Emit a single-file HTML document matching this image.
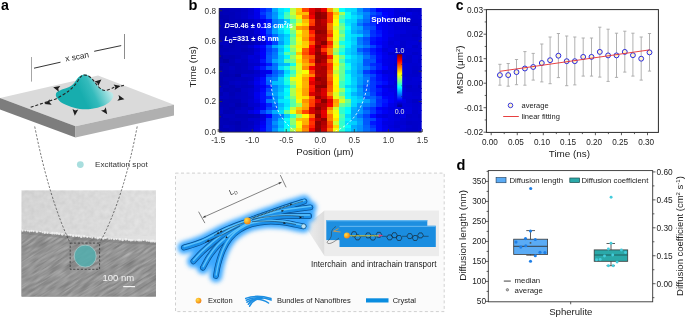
<!DOCTYPE html>
<html><head><meta charset="utf-8"><title>Figure</title>
<style>html,body{margin:0;padding:0;background:#fff;width:685px;height:317px;overflow:hidden}
svg{display:block;will-change:transform}text{font-family:"Liberation Sans",sans-serif}</style></head>
<body>
<svg width="685" height="317" viewBox="0 0 685 317"><defs>
<linearGradient id="cone" x1="86" y1="104" x2="111" y2="92" gradientUnits="userSpaceOnUse">
<stop offset="0" stop-color="#17adae"/><stop offset="0.4" stop-color="#34bbbc"/><stop offset="1" stop-color="#bce9e9"/></linearGradient>
<linearGradient id="semtop" x1="0" y1="0" x2="1" y2="0.3">
<stop offset="0" stop-color="#d2d2d2"/><stop offset="1" stop-color="#e2e2e2"/></linearGradient>
<radialGradient id="spot" cx="0.45" cy="0.45" r="0.6">
<stop offset="0" stop-color="#5fc4c4"/><stop offset="1" stop-color="#3aa9aa"/></radialGradient>
<radialGradient id="exc" cx="0.35" cy="0.35" r="0.7">
<stop offset="0" stop-color="#ffdc4a"/><stop offset="0.6" stop-color="#f8a820"/><stop offset="1" stop-color="#ee7a18"/></radialGradient>
<linearGradient id="cb" x1="0" y1="1" x2="0" y2="0">
<stop offset="0" stop-color="#00008f"/><stop offset="0.125" stop-color="#0000ff"/><stop offset="0.375" stop-color="#00ffff"/>
<stop offset="0.625" stop-color="#ffff00"/><stop offset="0.875" stop-color="#ff0000"/><stop offset="1" stop-color="#800000"/></linearGradient>
<linearGradient id="magcone" x1="0" y1="0" x2="1" y2="0">
<stop offset="0" stop-color="#f0f0f0"/><stop offset="1" stop-color="#dcdcdc"/></linearGradient>
<filter id="soft" x="-10%" y="-50%" width="120%" height="200%"><feGaussianBlur stdDeviation="0.45"/></filter>
<filter id="glow" x="-20%" y="-30%" width="140%" height="160%"><feGaussianBlur stdDeviation="2.2"/></filter>
<filter id="semtex" x="0" y="0" width="100%" height="100%" color-interpolation-filters="sRGB">
<feTurbulence type="fractalNoise" baseFrequency="0.06 0.45" numOctaves="2" seed="3" result="n"/>
<feColorMatrix in="n" type="matrix" values="0.3 0 0 0 0.43  0.3 0 0 0 0.43  0.3 0 0 0 0.43  0 0 0 0 1" result="m"/>
</filter>
<filter id="semtex2" x="0" y="0" width="100%" height="100%" color-interpolation-filters="sRGB">
<feTurbulence type="fractalNoise" baseFrequency="0.2 0.2" numOctaves="2" seed="5" result="n"/>
<feColorMatrix in="n" type="matrix" values="0.3 0 0 0 0.7  0.3 0 0 0 0.7  0.3 0 0 0 0.7  0 0 0 0 1"/>
</filter>
<clipPath id="hmclip"><rect x="219" y="8" width="202.7" height="124.1"/></clipPath>
</defs>
<text x="1.1" y="10.4" font-size="14.2" font-weight="bold" font-family="Liberation Sans, sans-serif" fill="#000">a</text>
<path d="M0,98 L98,75.5 L174,104.7 L75.5,126.2 Z" fill="#dadada"/>
<path d="M0,98 L75.5,126.2 L75.5,137.6 L0,109.6 Z" fill="#7d7d7d"/>
<path d="M75.5,126.2 L174,104.7 L174,115.5 L75.5,137.6 Z" fill="#b0b0b0"/>
<path d="M83.30,74.70 C82.03,74.90 80.65,75.50 79.60,76.20 C78.55,76.90 77.83,77.85 77.00,78.90 C76.17,79.95 75.55,81.37 74.60,82.50 C73.65,83.63 72.63,84.77 71.30,85.70 C69.97,86.63 68.40,87.35 66.60,88.10 C64.80,88.85 62.13,89.50 60.50,90.20 C58.87,90.90 57.58,91.47 56.80,92.30 C56.02,93.13 55.70,94.15 55.80,95.20 C55.90,96.25 56.35,97.28 57.40,98.60 C58.45,99.92 59.75,101.70 62.10,103.10 C64.45,104.50 68.08,105.98 71.50,107.00 C74.92,108.02 79.18,108.92 82.60,109.20 C86.02,109.48 88.60,109.25 92.00,108.70 C95.40,108.15 99.98,107.10 103.00,105.90 C106.02,104.70 108.38,103.12 110.10,101.50 C111.82,99.88 112.93,97.63 113.30,96.20 C113.67,94.77 113.22,93.72 112.30,92.90 C111.38,92.08 109.35,91.83 107.80,91.30 C106.25,90.77 104.58,90.50 103.00,89.70 C101.42,88.90 99.73,87.82 98.30,86.50 C96.87,85.18 95.68,83.35 94.40,81.80 C93.12,80.25 91.80,78.33 90.60,77.20 C89.40,76.07 88.42,75.42 87.20,75.00 C85.98,74.58 84.57,74.50 83.30,74.70Z" fill="url(#cone)"/>
<path d="M30.7,107.2 L55,99.2 C60,97 65,93.5 68.4,91.3 C72,88.5 75,85 77.8,81 C80,77.5 81.5,75 84,75 C88,75 90,77 92,78.7 C94.5,81.5 96,84 98.7,87 C101,89.5 103,90.5 105,90.5 C108,90.3 112,88.3 114.1,87.3 L124.3,85.3" fill="none" stroke="#262626" stroke-width="1.1" stroke-dasharray="3,1.9"/>
<path d="M44.50,104.00 L49.88,99.20 L49.52,102.37 L51.67,104.72 Z" fill="#1e1e1e"/>
<path d="M53.20,87.20 L60.33,86.11 L58.30,88.57 L58.82,91.71 Z" fill="#1e1e1e"/>
<path d="M74.80,115.80 L72.49,108.97 L75.26,110.54 L78.26,109.48 Z" fill="#1e1e1e"/>
<path d="M101.40,79.60 L98.21,86.06 L97.36,82.99 L94.48,81.62 Z" fill="#1e1e1e"/>
<path d="M120.60,86.10 L114.60,90.10 L115.40,87.02 L113.60,84.39 Z" fill="#1e1e1e"/>
<path d="M124.40,99.30 L117.34,100.76 L119.24,98.20 L118.55,95.09 Z" fill="#1e1e1e"/>
<path d="M107.20,114.30 L101.04,110.56 L104.17,109.97 L105.79,107.23 Z" fill="#1e1e1e"/>
<line x1="31.5" y1="57" x2="31.5" y2="81.6" stroke="#a6a6a6" stroke-width="1"/>
<line x1="124.5" y1="34" x2="124.5" y2="59" stroke="#8c8c8c" stroke-width="1"/>
<line x1="34" y1="68.2" x2="60.5" y2="62.2" stroke="#2a2a2a" stroke-width="0.95"/>
<line x1="94.2" y1="51.3" x2="121.2" y2="45.6" stroke="#2a2a2a" stroke-width="0.95"/>
<text x="0" y="0" font-size="8.3" font-family="Liberation Sans, sans-serif" fill="#1e1e1e" transform="translate(65.8,61.6) rotate(-10.5)">x scan</text>
<circle cx="80.3" cy="164.6" r="3.4" fill="#a8dede"/>
<text x="95" y="167.4" font-size="8.1" font-family="Liberation Sans, sans-serif" fill="#333">Excitation spot</text>
<rect x="21.6" y="190.4" width="134.4" height="106.1" fill="url(#semtop)"/>
<rect x="21.6" y="190.4" width="134.4" height="45" fill="#d8d8d8" filter="url(#semtex2)" opacity="0.22"/>
<clipPath id="semlow"><path d="M21.6,230.4 L40,232 L60,234 L80,236.5 L100,238 L120,239.5 L140,240.5 L156,241.3 L156,296.5 L21.6,296.5 Z"/></clipPath>
<path d="M21.6,230.4 L40,232 L60,234 L80,236.5 L100,238 L120,239.5 L140,240.5 L156,241.3 L156,296.5 L21.6,296.5 Z" fill="#8a8a8a"/>
<g clip-path="url(#semlow)"><g transform="rotate(-32 90 265)"><rect x="-10" y="180" width="200" height="170" fill="#8a8a8a" filter="url(#semtex)"/></g></g>
<path d="M21.6,230.4 L40,232 L60,234 L80,236.5 L100,238 L120,239.5 L140,240.5 L156,241.3" fill="none" stroke="#6e6e6e" stroke-width="3" opacity="0.35" transform="translate(0,2.2)" filter="url(#soft)"/>
<g fill="#f2f2f2" opacity="0.9" filter="url(#soft)"><circle cx="22.50" cy="230.64" r="1.03"/><circle cx="25.34" cy="230.54" r="0.85"/><circle cx="27.73" cy="230.78" r="0.84"/><circle cx="29.59" cy="231.33" r="1.10"/><circle cx="31.53" cy="230.82" r="1.10"/><circle cx="33.53" cy="231.17" r="0.96"/><circle cx="36.85" cy="231.67" r="1.20"/><circle cx="40.21" cy="231.55" r="0.83"/><circle cx="42.47" cy="232.44" r="0.90"/><circle cx="44.77" cy="232.61" r="1.37"/><circle cx="47.50" cy="232.71" r="1.25"/><circle cx="50.17" cy="233.26" r="0.84"/><circle cx="52.30" cy="233.15" r="1.28"/><circle cx="54.60" cy="233.35" r="1.21"/><circle cx="56.88" cy="233.36" r="1.36"/><circle cx="59.07" cy="233.73" r="1.20"/><circle cx="62.27" cy="234.33" r="1.31"/><circle cx="65.64" cy="234.63" r="0.88"/><circle cx="68.65" cy="234.94" r="0.91"/><circle cx="70.52" cy="234.93" r="1.27"/><circle cx="73.23" cy="235.67" r="1.41"/><circle cx="76.15" cy="235.80" r="1.22"/><circle cx="78.68" cy="235.78" r="1.39"/><circle cx="81.23" cy="236.84" r="1.26"/><circle cx="84.16" cy="236.22" r="1.25"/><circle cx="87.27" cy="237.00" r="1.00"/><circle cx="90.14" cy="237.15" r="0.82"/><circle cx="92.21" cy="237.66" r="0.88"/><circle cx="95.24" cy="237.72" r="0.89"/><circle cx="97.67" cy="238.05" r="1.41"/><circle cx="100.18" cy="237.52" r="1.18"/><circle cx="103.30" cy="238.30" r="1.40"/><circle cx="105.76" cy="237.94" r="1.05"/><circle cx="109.09" cy="238.82" r="0.91"/><circle cx="111.26" cy="238.71" r="0.96"/><circle cx="114.01" cy="239.35" r="0.98"/><circle cx="116.48" cy="239.03" r="1.06"/><circle cx="119.80" cy="239.32" r="1.28"/><circle cx="122.59" cy="239.88" r="1.27"/><circle cx="125.83" cy="239.30" r="1.35"/><circle cx="128.91" cy="239.89" r="1.07"/><circle cx="130.87" cy="240.29" r="1.24"/><circle cx="132.78" cy="240.29" r="0.95"/><circle cx="135.12" cy="240.56" r="0.84"/><circle cx="137.16" cy="240.33" r="0.87"/><circle cx="139.01" cy="240.20" r="1.41"/><circle cx="141.04" cy="240.54" r="0.98"/><circle cx="143.43" cy="240.21" r="0.89"/><circle cx="146.81" cy="240.71" r="1.13"/><circle cx="148.75" cy="240.93" r="0.87"/><circle cx="150.98" cy="241.20" r="1.38"/><circle cx="152.81" cy="240.97" r="1.47"/><circle cx="154.85" cy="241.52" r="1.18"/></g>
<circle cx="85.2" cy="256.1" r="11" fill="#52aeae" opacity="0.85" stroke="#a6cccc" stroke-width="0.9"/>
<rect x="70.2" y="243.1" width="29.4" height="26.2" fill="none" stroke="#333" stroke-width="0.75" stroke-dasharray="2.2,1.6"/>
<path d="M34.7,126.5 Q49.4,199.7 70.2,243.1" fill="none" stroke="#444" stroke-width="0.75" stroke-dasharray="2.2,1.6"/>
<path d="M137.2,126.5 Q123.1,200.3 99.6,243.1" fill="none" stroke="#444" stroke-width="0.75" stroke-dasharray="2.2,1.6"/>
<text x="102.4" y="280.7" font-size="9.5" font-family="Liberation Sans, sans-serif" fill="#f4f4f4">100 nm</text>
<rect x="123.2" y="286" width="11.8" height="1.2" fill="#f4f4f4"/>
<text x="188.6" y="9.9" font-size="14.6" font-weight="bold" font-family="Liberation Sans, sans-serif" fill="#000">b</text>
<g clip-path="url(#hmclip)" shape-rendering="crispEdges">
<rect x="210.90" y="8.00" width="6.7" height="4.25" fill="#0000c7"/>
<rect x="210.90" y="11.65" width="6.7" height="4.25" fill="#0000b9"/>
<rect x="210.90" y="15.30" width="6.7" height="4.25" fill="#0000b3"/>
<rect x="210.90" y="18.95" width="6.7" height="4.25" fill="#0000b1"/>
<rect x="210.90" y="22.60" width="6.7" height="4.25" fill="#0000bd"/>
<rect x="210.90" y="26.25" width="6.7" height="4.25" fill="#0000b4"/>
<rect x="210.90" y="29.90" width="6.7" height="4.25" fill="#0000bf"/>
<rect x="210.90" y="33.55" width="6.7" height="4.25" fill="#0000af"/>
<rect x="210.90" y="37.20" width="6.7" height="4.25" fill="#0000b8"/>
<rect x="210.90" y="40.85" width="6.7" height="4.25" fill="#0000bc"/>
<rect x="210.90" y="44.50" width="6.7" height="4.25" fill="#0000b6"/>
<rect x="210.90" y="48.15" width="6.7" height="4.25" fill="#0000bb"/>
<rect x="210.90" y="51.80" width="6.7" height="4.25" fill="#0000b3"/>
<rect x="210.90" y="55.45" width="6.7" height="4.25" fill="#0000b5"/>
<rect x="210.90" y="59.10" width="6.7" height="4.25" fill="#0000b4"/>
<rect x="210.90" y="62.75" width="6.7" height="4.25" fill="#0000b9"/>
<rect x="210.90" y="66.40" width="6.7" height="4.25" fill="#0000bc"/>
<rect x="210.90" y="70.05" width="6.7" height="4.25" fill="#0000b4"/>
<rect x="210.90" y="73.70" width="6.7" height="4.25" fill="#0000af"/>
<rect x="210.90" y="77.35" width="6.7" height="4.25" fill="#0000b9"/>
<rect x="210.90" y="81.00" width="6.7" height="4.25" fill="#0000bc"/>
<rect x="210.90" y="84.65" width="6.7" height="4.25" fill="#0000b3"/>
<rect x="210.90" y="88.30" width="6.7" height="4.25" fill="#0000bd"/>
<rect x="210.90" y="91.95" width="6.7" height="4.25" fill="#0000b4"/>
<rect x="210.90" y="95.60" width="6.7" height="4.25" fill="#0000b0"/>
<rect x="210.90" y="99.25" width="6.7" height="4.25" fill="#0000b6"/>
<rect x="210.90" y="102.90" width="6.7" height="4.25" fill="#0000be"/>
<rect x="210.90" y="106.55" width="6.7" height="4.25" fill="#0000b8"/>
<rect x="210.90" y="110.20" width="6.7" height="4.25" fill="#0000b7"/>
<rect x="210.90" y="113.85" width="6.7" height="4.25" fill="#0000b8"/>
<rect x="210.90" y="117.50" width="6.7" height="4.25" fill="#0000b8"/>
<rect x="210.90" y="121.15" width="6.7" height="4.25" fill="#0000b4"/>
<rect x="210.90" y="124.80" width="6.7" height="4.25" fill="#0000ad"/>
<rect x="210.90" y="128.45" width="6.7" height="4.25" fill="#0000b9"/>
<rect x="217.00" y="8.00" width="6.7" height="4.25" fill="#0000b2"/>
<rect x="217.00" y="11.65" width="6.7" height="4.25" fill="#0000b5"/>
<rect x="217.00" y="15.30" width="6.7" height="4.25" fill="#0000af"/>
<rect x="217.00" y="18.95" width="6.7" height="4.25" fill="#0000b6"/>
<rect x="217.00" y="22.60" width="6.7" height="4.25" fill="#0000b8"/>
<rect x="217.00" y="26.25" width="6.7" height="4.25" fill="#0000b4"/>
<rect x="217.00" y="29.90" width="6.7" height="4.25" fill="#0000b3"/>
<rect x="217.00" y="33.55" width="6.7" height="4.25" fill="#0000b5"/>
<rect x="217.00" y="37.20" width="6.7" height="4.25" fill="#0000b5"/>
<rect x="217.00" y="40.85" width="6.7" height="4.25" fill="#0000c1"/>
<rect x="217.00" y="44.50" width="6.7" height="4.25" fill="#0000af"/>
<rect x="217.00" y="48.15" width="6.7" height="4.25" fill="#0000b7"/>
<rect x="217.00" y="51.80" width="6.7" height="4.25" fill="#0000b8"/>
<rect x="217.00" y="55.45" width="6.7" height="4.25" fill="#0000aa"/>
<rect x="217.00" y="59.10" width="6.7" height="4.25" fill="#0000af"/>
<rect x="217.00" y="62.75" width="6.7" height="4.25" fill="#0000ba"/>
<rect x="217.00" y="66.40" width="6.7" height="4.25" fill="#0000b0"/>
<rect x="217.00" y="70.05" width="6.7" height="4.25" fill="#0000b7"/>
<rect x="217.00" y="73.70" width="6.7" height="4.25" fill="#0000b5"/>
<rect x="217.00" y="77.35" width="6.7" height="4.25" fill="#0000b1"/>
<rect x="217.00" y="81.00" width="6.7" height="4.25" fill="#0000b0"/>
<rect x="217.00" y="84.65" width="6.7" height="4.25" fill="#0000b6"/>
<rect x="217.00" y="88.30" width="6.7" height="4.25" fill="#0000c0"/>
<rect x="217.00" y="91.95" width="6.7" height="4.25" fill="#0000b4"/>
<rect x="217.00" y="95.60" width="6.7" height="4.25" fill="#0000c2"/>
<rect x="217.00" y="99.25" width="6.7" height="4.25" fill="#0000ad"/>
<rect x="217.00" y="102.90" width="6.7" height="4.25" fill="#0000b7"/>
<rect x="217.00" y="106.55" width="6.7" height="4.25" fill="#0000bf"/>
<rect x="217.00" y="110.20" width="6.7" height="4.25" fill="#0000c2"/>
<rect x="217.00" y="113.85" width="6.7" height="4.25" fill="#0000b3"/>
<rect x="217.00" y="117.50" width="6.7" height="4.25" fill="#0000b9"/>
<rect x="217.00" y="121.15" width="6.7" height="4.25" fill="#0000b9"/>
<rect x="217.00" y="124.80" width="6.7" height="4.25" fill="#0000b5"/>
<rect x="217.00" y="128.45" width="6.7" height="4.25" fill="#0000b8"/>
<rect x="223.10" y="8.00" width="6.7" height="4.25" fill="#0000b7"/>
<rect x="223.10" y="11.65" width="6.7" height="4.25" fill="#0000b9"/>
<rect x="223.10" y="15.30" width="6.7" height="4.25" fill="#0000b2"/>
<rect x="223.10" y="18.95" width="6.7" height="4.25" fill="#0000ae"/>
<rect x="223.10" y="22.60" width="6.7" height="4.25" fill="#0000ba"/>
<rect x="223.10" y="26.25" width="6.7" height="4.25" fill="#0000b5"/>
<rect x="223.10" y="29.90" width="6.7" height="4.25" fill="#0000b5"/>
<rect x="223.10" y="33.55" width="6.7" height="4.25" fill="#0000ae"/>
<rect x="223.10" y="37.20" width="6.7" height="4.25" fill="#0000bf"/>
<rect x="223.10" y="40.85" width="6.7" height="4.25" fill="#0000c1"/>
<rect x="223.10" y="44.50" width="6.7" height="4.25" fill="#0000bb"/>
<rect x="223.10" y="48.15" width="6.7" height="4.25" fill="#0000b6"/>
<rect x="223.10" y="51.80" width="6.7" height="4.25" fill="#0000bd"/>
<rect x="223.10" y="55.45" width="6.7" height="4.25" fill="#0000b5"/>
<rect x="223.10" y="59.10" width="6.7" height="4.25" fill="#0000a5"/>
<rect x="223.10" y="62.75" width="6.7" height="4.25" fill="#0000b9"/>
<rect x="223.10" y="66.40" width="6.7" height="4.25" fill="#0000b9"/>
<rect x="223.10" y="70.05" width="6.7" height="4.25" fill="#0000b4"/>
<rect x="223.10" y="73.70" width="6.7" height="4.25" fill="#0000b0"/>
<rect x="223.10" y="77.35" width="6.7" height="4.25" fill="#0000ba"/>
<rect x="223.10" y="81.00" width="6.7" height="4.25" fill="#0000b5"/>
<rect x="223.10" y="84.65" width="6.7" height="4.25" fill="#0000bb"/>
<rect x="223.10" y="88.30" width="6.7" height="4.25" fill="#0000b3"/>
<rect x="223.10" y="91.95" width="6.7" height="4.25" fill="#0000c0"/>
<rect x="223.10" y="95.60" width="6.7" height="4.25" fill="#0000bf"/>
<rect x="223.10" y="99.25" width="6.7" height="4.25" fill="#0000b8"/>
<rect x="223.10" y="102.90" width="6.7" height="4.25" fill="#0000b6"/>
<rect x="223.10" y="106.55" width="6.7" height="4.25" fill="#0000b8"/>
<rect x="223.10" y="110.20" width="6.7" height="4.25" fill="#0000b3"/>
<rect x="223.10" y="113.85" width="6.7" height="4.25" fill="#0000bf"/>
<rect x="223.10" y="117.50" width="6.7" height="4.25" fill="#0000b5"/>
<rect x="223.10" y="121.15" width="6.7" height="4.25" fill="#0000b7"/>
<rect x="223.10" y="124.80" width="6.7" height="4.25" fill="#0000c2"/>
<rect x="223.10" y="128.45" width="6.7" height="4.25" fill="#0000b6"/>
<rect x="229.20" y="8.00" width="6.7" height="4.25" fill="#0000bb"/>
<rect x="229.20" y="11.65" width="6.7" height="4.25" fill="#0000b8"/>
<rect x="229.20" y="15.30" width="6.7" height="4.25" fill="#0000b9"/>
<rect x="229.20" y="18.95" width="6.7" height="4.25" fill="#0000b9"/>
<rect x="229.20" y="22.60" width="6.7" height="4.25" fill="#0000b8"/>
<rect x="229.20" y="26.25" width="6.7" height="4.25" fill="#0000b3"/>
<rect x="229.20" y="29.90" width="6.7" height="4.25" fill="#0000bc"/>
<rect x="229.20" y="33.55" width="6.7" height="4.25" fill="#0000bc"/>
<rect x="229.20" y="37.20" width="6.7" height="4.25" fill="#0000c1"/>
<rect x="229.20" y="40.85" width="6.7" height="4.25" fill="#0000b1"/>
<rect x="229.20" y="44.50" width="6.7" height="4.25" fill="#0000b7"/>
<rect x="229.20" y="48.15" width="6.7" height="4.25" fill="#0000bb"/>
<rect x="229.20" y="51.80" width="6.7" height="4.25" fill="#0000be"/>
<rect x="229.20" y="55.45" width="6.7" height="4.25" fill="#0000b3"/>
<rect x="229.20" y="59.10" width="6.7" height="4.25" fill="#0000b7"/>
<rect x="229.20" y="62.75" width="6.7" height="4.25" fill="#0000b5"/>
<rect x="229.20" y="66.40" width="6.7" height="4.25" fill="#0000c1"/>
<rect x="229.20" y="70.05" width="6.7" height="4.25" fill="#0000ba"/>
<rect x="229.20" y="73.70" width="6.7" height="4.25" fill="#0000b5"/>
<rect x="229.20" y="77.35" width="6.7" height="4.25" fill="#0000b9"/>
<rect x="229.20" y="81.00" width="6.7" height="4.25" fill="#0000c1"/>
<rect x="229.20" y="84.65" width="6.7" height="4.25" fill="#0000b4"/>
<rect x="229.20" y="88.30" width="6.7" height="4.25" fill="#0000b8"/>
<rect x="229.20" y="91.95" width="6.7" height="4.25" fill="#0000b5"/>
<rect x="229.20" y="95.60" width="6.7" height="4.25" fill="#0000ba"/>
<rect x="229.20" y="99.25" width="6.7" height="4.25" fill="#0000b6"/>
<rect x="229.20" y="102.90" width="6.7" height="4.25" fill="#0000bb"/>
<rect x="229.20" y="106.55" width="6.7" height="4.25" fill="#0000b2"/>
<rect x="229.20" y="110.20" width="6.7" height="4.25" fill="#0000b6"/>
<rect x="229.20" y="113.85" width="6.7" height="4.25" fill="#0000be"/>
<rect x="229.20" y="117.50" width="6.7" height="4.25" fill="#0000bb"/>
<rect x="229.20" y="121.15" width="6.7" height="4.25" fill="#0000b5"/>
<rect x="229.20" y="124.80" width="6.7" height="4.25" fill="#0000bc"/>
<rect x="229.20" y="128.45" width="6.7" height="4.25" fill="#0000bd"/>
<rect x="235.30" y="8.00" width="6.7" height="4.25" fill="#0000bc"/>
<rect x="235.30" y="11.65" width="6.7" height="4.25" fill="#0000bf"/>
<rect x="235.30" y="15.30" width="6.7" height="4.25" fill="#0000be"/>
<rect x="235.30" y="18.95" width="6.7" height="4.25" fill="#0000b9"/>
<rect x="235.30" y="22.60" width="6.7" height="4.25" fill="#0000b9"/>
<rect x="235.30" y="26.25" width="6.7" height="4.25" fill="#0000bf"/>
<rect x="235.30" y="29.90" width="6.7" height="4.25" fill="#0000b6"/>
<rect x="235.30" y="33.55" width="6.7" height="4.25" fill="#0000c2"/>
<rect x="235.30" y="37.20" width="6.7" height="4.25" fill="#0000b6"/>
<rect x="235.30" y="40.85" width="6.7" height="4.25" fill="#0000be"/>
<rect x="235.30" y="44.50" width="6.7" height="4.25" fill="#0000bd"/>
<rect x="235.30" y="48.15" width="6.7" height="4.25" fill="#0000bd"/>
<rect x="235.30" y="51.80" width="6.7" height="4.25" fill="#0000be"/>
<rect x="235.30" y="55.45" width="6.7" height="4.25" fill="#0000ba"/>
<rect x="235.30" y="59.10" width="6.7" height="4.25" fill="#0000c4"/>
<rect x="235.30" y="62.75" width="6.7" height="4.25" fill="#0000b8"/>
<rect x="235.30" y="66.40" width="6.7" height="4.25" fill="#0000b8"/>
<rect x="235.30" y="70.05" width="6.7" height="4.25" fill="#0000b6"/>
<rect x="235.30" y="73.70" width="6.7" height="4.25" fill="#0000aa"/>
<rect x="235.30" y="77.35" width="6.7" height="4.25" fill="#0000bd"/>
<rect x="235.30" y="81.00" width="6.7" height="4.25" fill="#0000c6"/>
<rect x="235.30" y="84.65" width="6.7" height="4.25" fill="#0000c0"/>
<rect x="235.30" y="88.30" width="6.7" height="4.25" fill="#0000b3"/>
<rect x="235.30" y="91.95" width="6.7" height="4.25" fill="#0000be"/>
<rect x="235.30" y="95.60" width="6.7" height="4.25" fill="#0000bf"/>
<rect x="235.30" y="99.25" width="6.7" height="4.25" fill="#0000b6"/>
<rect x="235.30" y="102.90" width="6.7" height="4.25" fill="#0000af"/>
<rect x="235.30" y="106.55" width="6.7" height="4.25" fill="#0000b8"/>
<rect x="235.30" y="110.20" width="6.7" height="4.25" fill="#0000c5"/>
<rect x="235.30" y="113.85" width="6.7" height="4.25" fill="#0000b6"/>
<rect x="235.30" y="117.50" width="6.7" height="4.25" fill="#0000bd"/>
<rect x="235.30" y="121.15" width="6.7" height="4.25" fill="#0000b0"/>
<rect x="235.30" y="124.80" width="6.7" height="4.25" fill="#0000b5"/>
<rect x="235.30" y="128.45" width="6.7" height="4.25" fill="#0000b5"/>
<rect x="241.40" y="8.00" width="6.7" height="4.25" fill="#0000c3"/>
<rect x="241.40" y="11.65" width="6.7" height="4.25" fill="#0000c6"/>
<rect x="241.40" y="15.30" width="6.7" height="4.25" fill="#0000c7"/>
<rect x="241.40" y="18.95" width="6.7" height="4.25" fill="#0000bc"/>
<rect x="241.40" y="22.60" width="6.7" height="4.25" fill="#0000ba"/>
<rect x="241.40" y="26.25" width="6.7" height="4.25" fill="#0000bb"/>
<rect x="241.40" y="29.90" width="6.7" height="4.25" fill="#0000c1"/>
<rect x="241.40" y="33.55" width="6.7" height="4.25" fill="#0000be"/>
<rect x="241.40" y="37.20" width="6.7" height="4.25" fill="#0000c2"/>
<rect x="241.40" y="40.85" width="6.7" height="4.25" fill="#0000ae"/>
<rect x="241.40" y="44.50" width="6.7" height="4.25" fill="#0000be"/>
<rect x="241.40" y="48.15" width="6.7" height="4.25" fill="#0000b7"/>
<rect x="241.40" y="51.80" width="6.7" height="4.25" fill="#0000bf"/>
<rect x="241.40" y="55.45" width="6.7" height="4.25" fill="#0000c3"/>
<rect x="241.40" y="59.10" width="6.7" height="4.25" fill="#0000bd"/>
<rect x="241.40" y="62.75" width="6.7" height="4.25" fill="#0000bb"/>
<rect x="241.40" y="66.40" width="6.7" height="4.25" fill="#0000be"/>
<rect x="241.40" y="70.05" width="6.7" height="4.25" fill="#0000ba"/>
<rect x="241.40" y="73.70" width="6.7" height="4.25" fill="#0000cb"/>
<rect x="241.40" y="77.35" width="6.7" height="4.25" fill="#0000bd"/>
<rect x="241.40" y="81.00" width="6.7" height="4.25" fill="#0000c2"/>
<rect x="241.40" y="84.65" width="6.7" height="4.25" fill="#0000bc"/>
<rect x="241.40" y="88.30" width="6.7" height="4.25" fill="#0000c4"/>
<rect x="241.40" y="91.95" width="6.7" height="4.25" fill="#0000c1"/>
<rect x="241.40" y="95.60" width="6.7" height="4.25" fill="#0000c3"/>
<rect x="241.40" y="99.25" width="6.7" height="4.25" fill="#0000c3"/>
<rect x="241.40" y="102.90" width="6.7" height="4.25" fill="#0000b8"/>
<rect x="241.40" y="106.55" width="6.7" height="4.25" fill="#0000c2"/>
<rect x="241.40" y="110.20" width="6.7" height="4.25" fill="#0000c5"/>
<rect x="241.40" y="113.85" width="6.7" height="4.25" fill="#0000b8"/>
<rect x="241.40" y="117.50" width="6.7" height="4.25" fill="#0000bc"/>
<rect x="241.40" y="121.15" width="6.7" height="4.25" fill="#0000bd"/>
<rect x="241.40" y="124.80" width="6.7" height="4.25" fill="#0000bd"/>
<rect x="241.40" y="128.45" width="6.7" height="4.25" fill="#0000c1"/>
<rect x="247.50" y="8.00" width="6.7" height="4.25" fill="#0000d1"/>
<rect x="247.50" y="11.65" width="6.7" height="4.25" fill="#0000d3"/>
<rect x="247.50" y="15.30" width="6.7" height="4.25" fill="#0000d9"/>
<rect x="247.50" y="18.95" width="6.7" height="4.25" fill="#0000c2"/>
<rect x="247.50" y="22.60" width="6.7" height="4.25" fill="#0000c1"/>
<rect x="247.50" y="26.25" width="6.7" height="4.25" fill="#0000d4"/>
<rect x="247.50" y="29.90" width="6.7" height="4.25" fill="#0000c0"/>
<rect x="247.50" y="33.55" width="6.7" height="4.25" fill="#0000c2"/>
<rect x="247.50" y="37.20" width="6.7" height="4.25" fill="#0000be"/>
<rect x="247.50" y="40.85" width="6.7" height="4.25" fill="#0000b6"/>
<rect x="247.50" y="44.50" width="6.7" height="4.25" fill="#0000d1"/>
<rect x="247.50" y="48.15" width="6.7" height="4.25" fill="#0000bf"/>
<rect x="247.50" y="51.80" width="6.7" height="4.25" fill="#0000c1"/>
<rect x="247.50" y="55.45" width="6.7" height="4.25" fill="#0000d8"/>
<rect x="247.50" y="59.10" width="6.7" height="4.25" fill="#0000d2"/>
<rect x="247.50" y="62.75" width="6.7" height="4.25" fill="#0000c9"/>
<rect x="247.50" y="66.40" width="6.7" height="4.25" fill="#0000ce"/>
<rect x="247.50" y="70.05" width="6.7" height="4.25" fill="#0000bb"/>
<rect x="247.50" y="73.70" width="6.7" height="4.25" fill="#0000c9"/>
<rect x="247.50" y="77.35" width="6.7" height="4.25" fill="#0000c2"/>
<rect x="247.50" y="81.00" width="6.7" height="4.25" fill="#0000ce"/>
<rect x="247.50" y="84.65" width="6.7" height="4.25" fill="#0000bf"/>
<rect x="247.50" y="88.30" width="6.7" height="4.25" fill="#0000cb"/>
<rect x="247.50" y="91.95" width="6.7" height="4.25" fill="#0000cc"/>
<rect x="247.50" y="95.60" width="6.7" height="4.25" fill="#0000c8"/>
<rect x="247.50" y="99.25" width="6.7" height="4.25" fill="#0000ce"/>
<rect x="247.50" y="102.90" width="6.7" height="4.25" fill="#0000cb"/>
<rect x="247.50" y="106.55" width="6.7" height="4.25" fill="#0000be"/>
<rect x="247.50" y="110.20" width="6.7" height="4.25" fill="#0000df"/>
<rect x="247.50" y="113.85" width="6.7" height="4.25" fill="#0000b6"/>
<rect x="247.50" y="117.50" width="6.7" height="4.25" fill="#0000cc"/>
<rect x="247.50" y="121.15" width="6.7" height="4.25" fill="#0000c0"/>
<rect x="247.50" y="124.80" width="6.7" height="4.25" fill="#0000c5"/>
<rect x="247.50" y="128.45" width="6.7" height="4.25" fill="#0000c5"/>
<rect x="253.60" y="8.00" width="6.7" height="4.25" fill="#0000ee"/>
<rect x="253.60" y="11.65" width="6.7" height="4.25" fill="#0000ea"/>
<rect x="253.60" y="15.30" width="6.7" height="4.25" fill="#0000ea"/>
<rect x="253.60" y="18.95" width="6.7" height="4.25" fill="#0000d2"/>
<rect x="253.60" y="22.60" width="6.7" height="4.25" fill="#0000d2"/>
<rect x="253.60" y="26.25" width="6.7" height="4.25" fill="#0000d9"/>
<rect x="253.60" y="29.90" width="6.7" height="4.25" fill="#0000d7"/>
<rect x="253.60" y="33.55" width="6.7" height="4.25" fill="#0000cd"/>
<rect x="253.60" y="37.20" width="6.7" height="4.25" fill="#0000cf"/>
<rect x="253.60" y="40.85" width="6.7" height="4.25" fill="#0000c2"/>
<rect x="253.60" y="44.50" width="6.7" height="4.25" fill="#0000ec"/>
<rect x="253.60" y="48.15" width="6.7" height="4.25" fill="#0000d4"/>
<rect x="253.60" y="51.80" width="6.7" height="4.25" fill="#0000dd"/>
<rect x="253.60" y="55.45" width="6.7" height="4.25" fill="#0000d4"/>
<rect x="253.60" y="59.10" width="6.7" height="4.25" fill="#0000d8"/>
<rect x="253.60" y="62.75" width="6.7" height="4.25" fill="#0000cc"/>
<rect x="253.60" y="66.40" width="6.7" height="4.25" fill="#0000ee"/>
<rect x="253.60" y="70.05" width="6.7" height="4.25" fill="#0000c9"/>
<rect x="253.60" y="73.70" width="6.7" height="4.25" fill="#0000d1"/>
<rect x="253.60" y="77.35" width="6.7" height="4.25" fill="#0000e4"/>
<rect x="253.60" y="81.00" width="6.7" height="4.25" fill="#0000ee"/>
<rect x="253.60" y="84.65" width="6.7" height="4.25" fill="#0000e1"/>
<rect x="253.60" y="88.30" width="6.7" height="4.25" fill="#0000e0"/>
<rect x="253.60" y="91.95" width="6.7" height="4.25" fill="#0000ee"/>
<rect x="253.60" y="95.60" width="6.7" height="4.25" fill="#0000ec"/>
<rect x="253.60" y="99.25" width="6.7" height="4.25" fill="#0000e2"/>
<rect x="253.60" y="102.90" width="6.7" height="4.25" fill="#0000d0"/>
<rect x="253.60" y="106.55" width="6.7" height="4.25" fill="#0000de"/>
<rect x="253.60" y="110.20" width="6.7" height="4.25" fill="#0000f4"/>
<rect x="253.60" y="113.85" width="6.7" height="4.25" fill="#0000bd"/>
<rect x="253.60" y="117.50" width="6.7" height="4.25" fill="#0000cf"/>
<rect x="253.60" y="121.15" width="6.7" height="4.25" fill="#0000d0"/>
<rect x="253.60" y="124.80" width="6.7" height="4.25" fill="#0000da"/>
<rect x="253.60" y="128.45" width="6.7" height="4.25" fill="#0000de"/>
<rect x="259.70" y="8.00" width="6.7" height="4.25" fill="#0023ff"/>
<rect x="259.70" y="11.65" width="6.7" height="4.25" fill="#0037ff"/>
<rect x="259.70" y="15.30" width="6.7" height="4.25" fill="#001dff"/>
<rect x="259.70" y="18.95" width="6.7" height="4.25" fill="#0000ef"/>
<rect x="259.70" y="22.60" width="6.7" height="4.25" fill="#0000e8"/>
<rect x="259.70" y="26.25" width="6.7" height="4.25" fill="#0007ff"/>
<rect x="259.70" y="29.90" width="6.7" height="4.25" fill="#0000ff"/>
<rect x="259.70" y="33.55" width="6.7" height="4.25" fill="#0000f7"/>
<rect x="259.70" y="37.20" width="6.7" height="4.25" fill="#0000e9"/>
<rect x="259.70" y="40.85" width="6.7" height="4.25" fill="#0000d5"/>
<rect x="259.70" y="44.50" width="6.7" height="4.25" fill="#0007ff"/>
<rect x="259.70" y="48.15" width="6.7" height="4.25" fill="#0000f6"/>
<rect x="259.70" y="51.80" width="6.7" height="4.25" fill="#0000fc"/>
<rect x="259.70" y="55.45" width="6.7" height="4.25" fill="#0000fb"/>
<rect x="259.70" y="59.10" width="6.7" height="4.25" fill="#0014ff"/>
<rect x="259.70" y="62.75" width="6.7" height="4.25" fill="#0000ee"/>
<rect x="259.70" y="66.40" width="6.7" height="4.25" fill="#0018ff"/>
<rect x="259.70" y="70.05" width="6.7" height="4.25" fill="#0000e7"/>
<rect x="259.70" y="73.70" width="6.7" height="4.25" fill="#0000ec"/>
<rect x="259.70" y="77.35" width="6.7" height="4.25" fill="#000bff"/>
<rect x="259.70" y="81.00" width="6.7" height="4.25" fill="#000fff"/>
<rect x="259.70" y="84.65" width="6.7" height="4.25" fill="#0000f6"/>
<rect x="259.70" y="88.30" width="6.7" height="4.25" fill="#0007ff"/>
<rect x="259.70" y="91.95" width="6.7" height="4.25" fill="#0012ff"/>
<rect x="259.70" y="95.60" width="6.7" height="4.25" fill="#0012ff"/>
<rect x="259.70" y="99.25" width="6.7" height="4.25" fill="#000fff"/>
<rect x="259.70" y="102.90" width="6.7" height="4.25" fill="#0000f3"/>
<rect x="259.70" y="106.55" width="6.7" height="4.25" fill="#0000f6"/>
<rect x="259.70" y="110.20" width="6.7" height="4.25" fill="#003eff"/>
<rect x="259.70" y="113.85" width="6.7" height="4.25" fill="#0000d8"/>
<rect x="259.70" y="117.50" width="6.7" height="4.25" fill="#0000e2"/>
<rect x="259.70" y="121.15" width="6.7" height="4.25" fill="#0000f1"/>
<rect x="259.70" y="124.80" width="6.7" height="4.25" fill="#0000fc"/>
<rect x="259.70" y="128.45" width="6.7" height="4.25" fill="#0007ff"/>
<rect x="265.80" y="8.00" width="6.7" height="4.25" fill="#0047ff"/>
<rect x="265.80" y="11.65" width="6.7" height="4.25" fill="#0060ff"/>
<rect x="265.80" y="15.30" width="6.7" height="4.25" fill="#0062ff"/>
<rect x="265.80" y="18.95" width="6.7" height="4.25" fill="#0016ff"/>
<rect x="265.80" y="22.60" width="6.7" height="4.25" fill="#002aff"/>
<rect x="265.80" y="26.25" width="6.7" height="4.25" fill="#0049ff"/>
<rect x="265.80" y="29.90" width="6.7" height="4.25" fill="#0051ff"/>
<rect x="265.80" y="33.55" width="6.7" height="4.25" fill="#002fff"/>
<rect x="265.80" y="37.20" width="6.7" height="4.25" fill="#001cff"/>
<rect x="265.80" y="40.85" width="6.7" height="4.25" fill="#0008ff"/>
<rect x="265.80" y="44.50" width="6.7" height="4.25" fill="#0053ff"/>
<rect x="265.80" y="48.15" width="6.7" height="4.25" fill="#003eff"/>
<rect x="265.80" y="51.80" width="6.7" height="4.25" fill="#004cff"/>
<rect x="265.80" y="55.45" width="6.7" height="4.25" fill="#0057ff"/>
<rect x="265.80" y="59.10" width="6.7" height="4.25" fill="#0057ff"/>
<rect x="265.80" y="62.75" width="6.7" height="4.25" fill="#0019ff"/>
<rect x="265.80" y="66.40" width="6.7" height="4.25" fill="#005bff"/>
<rect x="265.80" y="70.05" width="6.7" height="4.25" fill="#0000eb"/>
<rect x="265.80" y="73.70" width="6.7" height="4.25" fill="#0041ff"/>
<rect x="265.80" y="77.35" width="6.7" height="4.25" fill="#006eff"/>
<rect x="265.80" y="81.00" width="6.7" height="4.25" fill="#0062ff"/>
<rect x="265.80" y="84.65" width="6.7" height="4.25" fill="#001eff"/>
<rect x="265.80" y="88.30" width="6.7" height="4.25" fill="#004cff"/>
<rect x="265.80" y="91.95" width="6.7" height="4.25" fill="#006bff"/>
<rect x="265.80" y="95.60" width="6.7" height="4.25" fill="#002eff"/>
<rect x="265.80" y="99.25" width="6.7" height="4.25" fill="#0077ff"/>
<rect x="265.80" y="102.90" width="6.7" height="4.25" fill="#0024ff"/>
<rect x="265.80" y="106.55" width="6.7" height="4.25" fill="#0041ff"/>
<rect x="265.80" y="110.20" width="6.7" height="4.25" fill="#0072ff"/>
<rect x="265.80" y="113.85" width="6.7" height="4.25" fill="#0000fe"/>
<rect x="265.80" y="117.50" width="6.7" height="4.25" fill="#003dff"/>
<rect x="265.80" y="121.15" width="6.7" height="4.25" fill="#0040ff"/>
<rect x="265.80" y="124.80" width="6.7" height="4.25" fill="#0045ff"/>
<rect x="265.80" y="128.45" width="6.7" height="4.25" fill="#0045ff"/>
<rect x="271.90" y="8.00" width="6.7" height="4.25" fill="#00a9ff"/>
<rect x="271.90" y="11.65" width="6.7" height="4.25" fill="#0092ff"/>
<rect x="271.90" y="15.30" width="6.7" height="4.25" fill="#0098ff"/>
<rect x="271.90" y="18.95" width="6.7" height="4.25" fill="#007bff"/>
<rect x="271.90" y="22.60" width="6.7" height="4.25" fill="#006cff"/>
<rect x="271.90" y="26.25" width="6.7" height="4.25" fill="#009aff"/>
<rect x="271.90" y="29.90" width="6.7" height="4.25" fill="#00a7ff"/>
<rect x="271.90" y="33.55" width="6.7" height="4.25" fill="#0068ff"/>
<rect x="271.90" y="37.20" width="6.7" height="4.25" fill="#0079ff"/>
<rect x="271.90" y="40.85" width="6.7" height="4.25" fill="#0045ff"/>
<rect x="271.90" y="44.50" width="6.7" height="4.25" fill="#00acff"/>
<rect x="271.90" y="48.15" width="6.7" height="4.25" fill="#0066ff"/>
<rect x="271.90" y="51.80" width="6.7" height="4.25" fill="#0076ff"/>
<rect x="271.90" y="55.45" width="6.7" height="4.25" fill="#007cff"/>
<rect x="271.90" y="59.10" width="6.7" height="4.25" fill="#00a6ff"/>
<rect x="271.90" y="62.75" width="6.7" height="4.25" fill="#006bff"/>
<rect x="271.90" y="66.40" width="6.7" height="4.25" fill="#0079ff"/>
<rect x="271.90" y="70.05" width="6.7" height="4.25" fill="#0055ff"/>
<rect x="271.90" y="73.70" width="6.7" height="4.25" fill="#0065ff"/>
<rect x="271.90" y="77.35" width="6.7" height="4.25" fill="#0083ff"/>
<rect x="271.90" y="81.00" width="6.7" height="4.25" fill="#00c0ff"/>
<rect x="271.90" y="84.65" width="6.7" height="4.25" fill="#0086ff"/>
<rect x="271.90" y="88.30" width="6.7" height="4.25" fill="#0093ff"/>
<rect x="271.90" y="91.95" width="6.7" height="4.25" fill="#00a0ff"/>
<rect x="271.90" y="95.60" width="6.7" height="4.25" fill="#0088ff"/>
<rect x="271.90" y="99.25" width="6.7" height="4.25" fill="#0093ff"/>
<rect x="271.90" y="102.90" width="6.7" height="4.25" fill="#006eff"/>
<rect x="271.90" y="106.55" width="6.7" height="4.25" fill="#0059ff"/>
<rect x="271.90" y="110.20" width="6.7" height="4.25" fill="#00b0ff"/>
<rect x="271.90" y="113.85" width="6.7" height="4.25" fill="#006aff"/>
<rect x="271.90" y="117.50" width="6.7" height="4.25" fill="#0070ff"/>
<rect x="271.90" y="121.15" width="6.7" height="4.25" fill="#008fff"/>
<rect x="271.90" y="124.80" width="6.7" height="4.25" fill="#0075ff"/>
<rect x="271.90" y="128.45" width="6.7" height="4.25" fill="#008eff"/>
<rect x="278.00" y="8.00" width="6.7" height="4.25" fill="#00e2ff"/>
<rect x="278.00" y="11.65" width="6.7" height="4.25" fill="#00d9ff"/>
<rect x="278.00" y="15.30" width="6.7" height="4.25" fill="#00e3ff"/>
<rect x="278.00" y="18.95" width="6.7" height="4.25" fill="#009aff"/>
<rect x="278.00" y="22.60" width="6.7" height="4.25" fill="#00a8ff"/>
<rect x="278.00" y="26.25" width="6.7" height="4.25" fill="#00e6ff"/>
<rect x="278.00" y="29.90" width="6.7" height="4.25" fill="#00d1ff"/>
<rect x="278.00" y="33.55" width="6.7" height="4.25" fill="#00aaff"/>
<rect x="278.00" y="37.20" width="6.7" height="4.25" fill="#00b2ff"/>
<rect x="278.00" y="40.85" width="6.7" height="4.25" fill="#009eff"/>
<rect x="278.00" y="44.50" width="6.7" height="4.25" fill="#00d2ff"/>
<rect x="278.00" y="48.15" width="6.7" height="4.25" fill="#00bcff"/>
<rect x="278.00" y="51.80" width="6.7" height="4.25" fill="#00d3ff"/>
<rect x="278.00" y="55.45" width="6.7" height="4.25" fill="#00c2ff"/>
<rect x="278.00" y="59.10" width="6.7" height="4.25" fill="#00c7ff"/>
<rect x="278.00" y="62.75" width="6.7" height="4.25" fill="#00b1ff"/>
<rect x="278.00" y="66.40" width="6.7" height="4.25" fill="#00deff"/>
<rect x="278.00" y="70.05" width="6.7" height="4.25" fill="#007bff"/>
<rect x="278.00" y="73.70" width="6.7" height="4.25" fill="#0099ff"/>
<rect x="278.00" y="77.35" width="6.7" height="4.25" fill="#00ceff"/>
<rect x="278.00" y="81.00" width="6.7" height="4.25" fill="#00cbff"/>
<rect x="278.00" y="84.65" width="6.7" height="4.25" fill="#00b3ff"/>
<rect x="278.00" y="88.30" width="6.7" height="4.25" fill="#00bcff"/>
<rect x="278.00" y="91.95" width="6.7" height="4.25" fill="#00d3ff"/>
<rect x="278.00" y="95.60" width="6.7" height="4.25" fill="#00c0ff"/>
<rect x="278.00" y="99.25" width="6.7" height="4.25" fill="#00e4ff"/>
<rect x="278.00" y="102.90" width="6.7" height="4.25" fill="#00b5ff"/>
<rect x="278.00" y="106.55" width="6.7" height="4.25" fill="#00c9ff"/>
<rect x="278.00" y="110.20" width="6.7" height="4.25" fill="#00deff"/>
<rect x="278.00" y="113.85" width="6.7" height="4.25" fill="#007cff"/>
<rect x="278.00" y="117.50" width="6.7" height="4.25" fill="#00b2ff"/>
<rect x="278.00" y="121.15" width="6.7" height="4.25" fill="#00c2ff"/>
<rect x="278.00" y="124.80" width="6.7" height="4.25" fill="#00b6ff"/>
<rect x="278.00" y="128.45" width="6.7" height="4.25" fill="#00d1ff"/>
<rect x="284.10" y="8.00" width="6.7" height="4.25" fill="#00f7ff"/>
<rect x="284.10" y="11.65" width="6.7" height="4.25" fill="#3dffc1"/>
<rect x="284.10" y="15.30" width="6.7" height="4.25" fill="#4dffb1"/>
<rect x="284.10" y="18.95" width="6.7" height="4.25" fill="#00ceff"/>
<rect x="284.10" y="22.60" width="6.7" height="4.25" fill="#00eaff"/>
<rect x="284.10" y="26.25" width="6.7" height="4.25" fill="#15ffe9"/>
<rect x="284.10" y="29.90" width="6.7" height="4.25" fill="#04fffa"/>
<rect x="284.10" y="33.55" width="6.7" height="4.25" fill="#00ceff"/>
<rect x="284.10" y="37.20" width="6.7" height="4.25" fill="#00deff"/>
<rect x="284.10" y="40.85" width="6.7" height="4.25" fill="#00dcff"/>
<rect x="284.10" y="44.50" width="6.7" height="4.25" fill="#25ffd9"/>
<rect x="284.10" y="48.15" width="6.7" height="4.25" fill="#00fffe"/>
<rect x="284.10" y="51.80" width="6.7" height="4.25" fill="#54ffaa"/>
<rect x="284.10" y="55.45" width="6.7" height="4.25" fill="#00f6ff"/>
<rect x="284.10" y="59.10" width="6.7" height="4.25" fill="#4dffb1"/>
<rect x="284.10" y="62.75" width="6.7" height="4.25" fill="#00bfff"/>
<rect x="284.10" y="66.40" width="6.7" height="4.25" fill="#1bffe3"/>
<rect x="284.10" y="70.05" width="6.7" height="4.25" fill="#00d5ff"/>
<rect x="284.10" y="73.70" width="6.7" height="4.25" fill="#00f5ff"/>
<rect x="284.10" y="77.35" width="6.7" height="4.25" fill="#23ffdb"/>
<rect x="284.10" y="81.00" width="6.7" height="4.25" fill="#16ffe8"/>
<rect x="284.10" y="84.65" width="6.7" height="4.25" fill="#00dbff"/>
<rect x="284.10" y="88.30" width="6.7" height="4.25" fill="#05fff9"/>
<rect x="284.10" y="91.95" width="6.7" height="4.25" fill="#00f7ff"/>
<rect x="284.10" y="95.60" width="6.7" height="4.25" fill="#14ffea"/>
<rect x="284.10" y="99.25" width="6.7" height="4.25" fill="#00efff"/>
<rect x="284.10" y="102.90" width="6.7" height="4.25" fill="#00e6ff"/>
<rect x="284.10" y="106.55" width="6.7" height="4.25" fill="#06fff8"/>
<rect x="284.10" y="110.20" width="6.7" height="4.25" fill="#68ff96"/>
<rect x="284.10" y="113.85" width="6.7" height="4.25" fill="#00cbff"/>
<rect x="284.10" y="117.50" width="6.7" height="4.25" fill="#0afff4"/>
<rect x="284.10" y="121.15" width="6.7" height="4.25" fill="#00f3ff"/>
<rect x="284.10" y="124.80" width="6.7" height="4.25" fill="#00faff"/>
<rect x="284.10" y="128.45" width="6.7" height="4.25" fill="#17ffe7"/>
<rect x="290.20" y="8.00" width="6.7" height="4.25" fill="#bdff41"/>
<rect x="290.20" y="11.65" width="6.7" height="4.25" fill="#cbff33"/>
<rect x="290.20" y="15.30" width="6.7" height="4.25" fill="#9fff5f"/>
<rect x="290.20" y="18.95" width="6.7" height="4.25" fill="#4dffb1"/>
<rect x="290.20" y="22.60" width="6.7" height="4.25" fill="#7dff81"/>
<rect x="290.20" y="26.25" width="6.7" height="4.25" fill="#a7ff57"/>
<rect x="290.20" y="29.90" width="6.7" height="4.25" fill="#75ff89"/>
<rect x="290.20" y="33.55" width="6.7" height="4.25" fill="#53ffab"/>
<rect x="290.20" y="37.20" width="6.7" height="4.25" fill="#77ff87"/>
<rect x="290.20" y="40.85" width="6.7" height="4.25" fill="#6dff91"/>
<rect x="290.20" y="44.50" width="6.7" height="4.25" fill="#b1ff4d"/>
<rect x="290.20" y="48.15" width="6.7" height="4.25" fill="#8cff72"/>
<rect x="290.20" y="51.80" width="6.7" height="4.25" fill="#5bffa3"/>
<rect x="290.20" y="55.45" width="6.7" height="4.25" fill="#9aff64"/>
<rect x="290.20" y="59.10" width="6.7" height="4.25" fill="#75ff89"/>
<rect x="290.20" y="62.75" width="6.7" height="4.25" fill="#18ffe6"/>
<rect x="290.20" y="66.40" width="6.7" height="4.25" fill="#84ff7a"/>
<rect x="290.20" y="70.05" width="6.7" height="4.25" fill="#38ffc6"/>
<rect x="290.20" y="73.70" width="6.7" height="4.25" fill="#61ff9d"/>
<rect x="290.20" y="77.35" width="6.7" height="4.25" fill="#e2ff1c"/>
<rect x="290.20" y="81.00" width="6.7" height="4.25" fill="#a7ff57"/>
<rect x="290.20" y="84.65" width="6.7" height="4.25" fill="#64ff9a"/>
<rect x="290.20" y="88.30" width="6.7" height="4.25" fill="#afff4f"/>
<rect x="290.20" y="91.95" width="6.7" height="4.25" fill="#a9ff55"/>
<rect x="290.20" y="95.60" width="6.7" height="4.25" fill="#82ff7c"/>
<rect x="290.20" y="99.25" width="6.7" height="4.25" fill="#5cffa2"/>
<rect x="290.20" y="102.90" width="6.7" height="4.25" fill="#57ffa7"/>
<rect x="290.20" y="106.55" width="6.7" height="4.25" fill="#bcff42"/>
<rect x="290.20" y="110.20" width="6.7" height="4.25" fill="#efff0f"/>
<rect x="290.20" y="113.85" width="6.7" height="4.25" fill="#39ffc5"/>
<rect x="290.20" y="117.50" width="6.7" height="4.25" fill="#8dff71"/>
<rect x="290.20" y="121.15" width="6.7" height="4.25" fill="#89ff75"/>
<rect x="290.20" y="124.80" width="6.7" height="4.25" fill="#56ffa8"/>
<rect x="290.20" y="128.45" width="6.7" height="4.25" fill="#aaff54"/>
<rect x="296.30" y="8.00" width="6.7" height="4.25" fill="#ffcb00"/>
<rect x="296.30" y="11.65" width="6.7" height="4.25" fill="#ffbc00"/>
<rect x="296.30" y="15.30" width="6.7" height="4.25" fill="#fff100"/>
<rect x="296.30" y="18.95" width="6.7" height="4.25" fill="#bbff43"/>
<rect x="296.30" y="22.60" width="6.7" height="4.25" fill="#f7ff07"/>
<rect x="296.30" y="26.25" width="6.7" height="4.25" fill="#ffa400"/>
<rect x="296.30" y="29.90" width="6.7" height="4.25" fill="#f2ff0c"/>
<rect x="296.30" y="33.55" width="6.7" height="4.25" fill="#ffe700"/>
<rect x="296.30" y="37.20" width="6.7" height="4.25" fill="#f5ff09"/>
<rect x="296.30" y="40.85" width="6.7" height="4.25" fill="#e3ff1b"/>
<rect x="296.30" y="44.50" width="6.7" height="4.25" fill="#fff000"/>
<rect x="296.30" y="48.15" width="6.7" height="4.25" fill="#f0ff0e"/>
<rect x="296.30" y="51.80" width="6.7" height="4.25" fill="#ffc500"/>
<rect x="296.30" y="55.45" width="6.7" height="4.25" fill="#f6ff08"/>
<rect x="296.30" y="59.10" width="6.7" height="4.25" fill="#ffe700"/>
<rect x="296.30" y="62.75" width="6.7" height="4.25" fill="#e2ff1c"/>
<rect x="296.30" y="66.40" width="6.7" height="4.25" fill="#e4ff1a"/>
<rect x="296.30" y="70.05" width="6.7" height="4.25" fill="#daff24"/>
<rect x="296.30" y="73.70" width="6.7" height="4.25" fill="#f1ff0d"/>
<rect x="296.30" y="77.35" width="6.7" height="4.25" fill="#fffa00"/>
<rect x="296.30" y="81.00" width="6.7" height="4.25" fill="#fff900"/>
<rect x="296.30" y="84.65" width="6.7" height="4.25" fill="#fff500"/>
<rect x="296.30" y="88.30" width="6.7" height="4.25" fill="#ffe800"/>
<rect x="296.30" y="91.95" width="6.7" height="4.25" fill="#ffee00"/>
<rect x="296.30" y="95.60" width="6.7" height="4.25" fill="#ffef00"/>
<rect x="296.30" y="99.25" width="6.7" height="4.25" fill="#f0ff0e"/>
<rect x="296.30" y="102.90" width="6.7" height="4.25" fill="#a3ff5b"/>
<rect x="296.30" y="106.55" width="6.7" height="4.25" fill="#ffcc00"/>
<rect x="296.30" y="110.20" width="6.7" height="4.25" fill="#ffa800"/>
<rect x="296.30" y="113.85" width="6.7" height="4.25" fill="#afff4f"/>
<rect x="296.30" y="117.50" width="6.7" height="4.25" fill="#ffc600"/>
<rect x="296.30" y="121.15" width="6.7" height="4.25" fill="#fffd00"/>
<rect x="296.30" y="124.80" width="6.7" height="4.25" fill="#f4ff0a"/>
<rect x="296.30" y="128.45" width="6.7" height="4.25" fill="#ffe100"/>
<rect x="302.40" y="8.00" width="6.7" height="4.25" fill="#ff4300"/>
<rect x="302.40" y="11.65" width="6.7" height="4.25" fill="#ffb900"/>
<rect x="302.40" y="15.30" width="6.7" height="4.25" fill="#ff7500"/>
<rect x="302.40" y="18.95" width="6.7" height="4.25" fill="#ffbb00"/>
<rect x="302.40" y="22.60" width="6.7" height="4.25" fill="#ffd800"/>
<rect x="302.40" y="26.25" width="6.7" height="4.25" fill="#ff8d00"/>
<rect x="302.40" y="29.90" width="6.7" height="4.25" fill="#ffb400"/>
<rect x="302.40" y="33.55" width="6.7" height="4.25" fill="#ffb400"/>
<rect x="302.40" y="37.20" width="6.7" height="4.25" fill="#ffa000"/>
<rect x="302.40" y="40.85" width="6.7" height="4.25" fill="#ffcb00"/>
<rect x="302.40" y="44.50" width="6.7" height="4.25" fill="#ffd100"/>
<rect x="302.40" y="48.15" width="6.7" height="4.25" fill="#ff5c00"/>
<rect x="302.40" y="51.80" width="6.7" height="4.25" fill="#ff4b00"/>
<rect x="302.40" y="55.45" width="6.7" height="4.25" fill="#ff7c00"/>
<rect x="302.40" y="59.10" width="6.7" height="4.25" fill="#ff9400"/>
<rect x="302.40" y="62.75" width="6.7" height="4.25" fill="#ffb300"/>
<rect x="302.40" y="66.40" width="6.7" height="4.25" fill="#ff8d00"/>
<rect x="302.40" y="70.05" width="6.7" height="4.25" fill="#faff04"/>
<rect x="302.40" y="73.70" width="6.7" height="4.25" fill="#ffcd00"/>
<rect x="302.40" y="77.35" width="6.7" height="4.25" fill="#ffa700"/>
<rect x="302.40" y="81.00" width="6.7" height="4.25" fill="#ffb100"/>
<rect x="302.40" y="84.65" width="6.7" height="4.25" fill="#ffb000"/>
<rect x="302.40" y="88.30" width="6.7" height="4.25" fill="#ffa100"/>
<rect x="302.40" y="91.95" width="6.7" height="4.25" fill="#ff9e00"/>
<rect x="302.40" y="95.60" width="6.7" height="4.25" fill="#ffe000"/>
<rect x="302.40" y="99.25" width="6.7" height="4.25" fill="#ff9300"/>
<rect x="302.40" y="102.90" width="6.7" height="4.25" fill="#ffae00"/>
<rect x="302.40" y="106.55" width="6.7" height="4.25" fill="#ff9e00"/>
<rect x="302.40" y="110.20" width="6.7" height="4.25" fill="#ff4100"/>
<rect x="302.40" y="113.85" width="6.7" height="4.25" fill="#fff800"/>
<rect x="302.40" y="117.50" width="6.7" height="4.25" fill="#ffb400"/>
<rect x="302.40" y="121.15" width="6.7" height="4.25" fill="#ffad00"/>
<rect x="302.40" y="124.80" width="6.7" height="4.25" fill="#ff7500"/>
<rect x="302.40" y="128.45" width="6.7" height="4.25" fill="#ff8700"/>
<rect x="308.50" y="8.00" width="6.7" height="4.25" fill="#e10000"/>
<rect x="308.50" y="11.65" width="6.7" height="4.25" fill="#d80000"/>
<rect x="308.50" y="15.30" width="6.7" height="4.25" fill="#f20000"/>
<rect x="308.50" y="18.95" width="6.7" height="4.25" fill="#ff4000"/>
<rect x="308.50" y="22.60" width="6.7" height="4.25" fill="#ff3400"/>
<rect x="308.50" y="26.25" width="6.7" height="4.25" fill="#b60000"/>
<rect x="308.50" y="29.90" width="6.7" height="4.25" fill="#ff1c00"/>
<rect x="308.50" y="33.55" width="6.7" height="4.25" fill="#ff4700"/>
<rect x="308.50" y="37.20" width="6.7" height="4.25" fill="#ff1c00"/>
<rect x="308.50" y="40.85" width="6.7" height="4.25" fill="#ff5600"/>
<rect x="308.50" y="44.50" width="6.7" height="4.25" fill="#ff0600"/>
<rect x="308.50" y="48.15" width="6.7" height="4.25" fill="#f00000"/>
<rect x="308.50" y="51.80" width="6.7" height="4.25" fill="#e50000"/>
<rect x="308.50" y="55.45" width="6.7" height="4.25" fill="#ff5800"/>
<rect x="308.50" y="59.10" width="6.7" height="4.25" fill="#ff3000"/>
<rect x="308.50" y="62.75" width="6.7" height="4.25" fill="#ff8100"/>
<rect x="308.50" y="66.40" width="6.7" height="4.25" fill="#f30000"/>
<rect x="308.50" y="70.05" width="6.7" height="4.25" fill="#ff3c00"/>
<rect x="308.50" y="73.70" width="6.7" height="4.25" fill="#ff7e00"/>
<rect x="308.50" y="77.35" width="6.7" height="4.25" fill="#ff0100"/>
<rect x="308.50" y="81.00" width="6.7" height="4.25" fill="#e10000"/>
<rect x="308.50" y="84.65" width="6.7" height="4.25" fill="#ff1b00"/>
<rect x="308.50" y="88.30" width="6.7" height="4.25" fill="#ff1100"/>
<rect x="308.50" y="91.95" width="6.7" height="4.25" fill="#d90000"/>
<rect x="308.50" y="95.60" width="6.7" height="4.25" fill="#ff6300"/>
<rect x="308.50" y="99.25" width="6.7" height="4.25" fill="#ff4100"/>
<rect x="308.50" y="102.90" width="6.7" height="4.25" fill="#ff3800"/>
<rect x="308.50" y="106.55" width="6.7" height="4.25" fill="#cf0000"/>
<rect x="308.50" y="110.20" width="6.7" height="4.25" fill="#d10000"/>
<rect x="308.50" y="113.85" width="6.7" height="4.25" fill="#ff6800"/>
<rect x="308.50" y="117.50" width="6.7" height="4.25" fill="#ff1c00"/>
<rect x="308.50" y="121.15" width="6.7" height="4.25" fill="#ff3200"/>
<rect x="308.50" y="124.80" width="6.7" height="4.25" fill="#ff1e00"/>
<rect x="308.50" y="128.45" width="6.7" height="4.25" fill="#e90000"/>
<rect x="314.60" y="8.00" width="6.7" height="4.25" fill="#b40000"/>
<rect x="314.60" y="11.65" width="6.7" height="4.25" fill="#890000"/>
<rect x="314.60" y="15.30" width="6.7" height="4.25" fill="#8a0000"/>
<rect x="314.60" y="18.95" width="6.7" height="4.25" fill="#a00000"/>
<rect x="314.60" y="22.60" width="6.7" height="4.25" fill="#a00000"/>
<rect x="314.60" y="26.25" width="6.7" height="4.25" fill="#a50000"/>
<rect x="314.60" y="29.90" width="6.7" height="4.25" fill="#8f0000"/>
<rect x="314.60" y="33.55" width="6.7" height="4.25" fill="#ad0000"/>
<rect x="314.60" y="37.20" width="6.7" height="4.25" fill="#a50000"/>
<rect x="314.60" y="40.85" width="6.7" height="4.25" fill="#b20000"/>
<rect x="314.60" y="44.50" width="6.7" height="4.25" fill="#890000"/>
<rect x="314.60" y="48.15" width="6.7" height="4.25" fill="#a00000"/>
<rect x="314.60" y="51.80" width="6.7" height="4.25" fill="#8c0000"/>
<rect x="314.60" y="55.45" width="6.7" height="4.25" fill="#980000"/>
<rect x="314.60" y="59.10" width="6.7" height="4.25" fill="#8f0000"/>
<rect x="314.60" y="62.75" width="6.7" height="4.25" fill="#b70000"/>
<rect x="314.60" y="66.40" width="6.7" height="4.25" fill="#b40000"/>
<rect x="314.60" y="70.05" width="6.7" height="4.25" fill="#aa0000"/>
<rect x="314.60" y="73.70" width="6.7" height="4.25" fill="#b80000"/>
<rect x="314.60" y="77.35" width="6.7" height="4.25" fill="#8f0000"/>
<rect x="314.60" y="81.00" width="6.7" height="4.25" fill="#ae0000"/>
<rect x="314.60" y="84.65" width="6.7" height="4.25" fill="#890000"/>
<rect x="314.60" y="88.30" width="6.7" height="4.25" fill="#a50000"/>
<rect x="314.60" y="91.95" width="6.7" height="4.25" fill="#b50000"/>
<rect x="314.60" y="95.60" width="6.7" height="4.25" fill="#930000"/>
<rect x="314.60" y="99.25" width="6.7" height="4.25" fill="#dc0000"/>
<rect x="314.60" y="102.90" width="6.7" height="4.25" fill="#a80000"/>
<rect x="314.60" y="106.55" width="6.7" height="4.25" fill="#890000"/>
<rect x="314.60" y="110.20" width="6.7" height="4.25" fill="#a70000"/>
<rect x="314.60" y="113.85" width="6.7" height="4.25" fill="#890000"/>
<rect x="314.60" y="117.50" width="6.7" height="4.25" fill="#b60000"/>
<rect x="314.60" y="121.15" width="6.7" height="4.25" fill="#890000"/>
<rect x="314.60" y="124.80" width="6.7" height="4.25" fill="#8f0000"/>
<rect x="314.60" y="128.45" width="6.7" height="4.25" fill="#890000"/>
<rect x="320.70" y="8.00" width="6.7" height="4.25" fill="#e70000"/>
<rect x="320.70" y="11.65" width="6.7" height="4.25" fill="#9f0000"/>
<rect x="320.70" y="15.30" width="6.7" height="4.25" fill="#970000"/>
<rect x="320.70" y="18.95" width="6.7" height="4.25" fill="#bc0000"/>
<rect x="320.70" y="22.60" width="6.7" height="4.25" fill="#b50000"/>
<rect x="320.70" y="26.25" width="6.7" height="4.25" fill="#a80000"/>
<rect x="320.70" y="29.90" width="6.7" height="4.25" fill="#990000"/>
<rect x="320.70" y="33.55" width="6.7" height="4.25" fill="#a90000"/>
<rect x="320.70" y="37.20" width="6.7" height="4.25" fill="#b20000"/>
<rect x="320.70" y="40.85" width="6.7" height="4.25" fill="#890000"/>
<rect x="320.70" y="44.50" width="6.7" height="4.25" fill="#d90000"/>
<rect x="320.70" y="48.15" width="6.7" height="4.25" fill="#ff3700"/>
<rect x="320.70" y="51.80" width="6.7" height="4.25" fill="#ce0000"/>
<rect x="320.70" y="55.45" width="6.7" height="4.25" fill="#9e0000"/>
<rect x="320.70" y="59.10" width="6.7" height="4.25" fill="#af0000"/>
<rect x="320.70" y="62.75" width="6.7" height="4.25" fill="#c90000"/>
<rect x="320.70" y="66.40" width="6.7" height="4.25" fill="#a70000"/>
<rect x="320.70" y="70.05" width="6.7" height="4.25" fill="#ae0000"/>
<rect x="320.70" y="73.70" width="6.7" height="4.25" fill="#ac0000"/>
<rect x="320.70" y="77.35" width="6.7" height="4.25" fill="#a20000"/>
<rect x="320.70" y="81.00" width="6.7" height="4.25" fill="#9b0000"/>
<rect x="320.70" y="84.65" width="6.7" height="4.25" fill="#890000"/>
<rect x="320.70" y="88.30" width="6.7" height="4.25" fill="#d50000"/>
<rect x="320.70" y="91.95" width="6.7" height="4.25" fill="#da0000"/>
<rect x="320.70" y="95.60" width="6.7" height="4.25" fill="#c50000"/>
<rect x="320.70" y="99.25" width="6.7" height="4.25" fill="#890000"/>
<rect x="320.70" y="102.90" width="6.7" height="4.25" fill="#b20000"/>
<rect x="320.70" y="106.55" width="6.7" height="4.25" fill="#c10000"/>
<rect x="320.70" y="110.20" width="6.7" height="4.25" fill="#e70000"/>
<rect x="320.70" y="113.85" width="6.7" height="4.25" fill="#e10000"/>
<rect x="320.70" y="117.50" width="6.7" height="4.25" fill="#950000"/>
<rect x="320.70" y="121.15" width="6.7" height="4.25" fill="#af0000"/>
<rect x="320.70" y="124.80" width="6.7" height="4.25" fill="#bc0000"/>
<rect x="320.70" y="128.45" width="6.7" height="4.25" fill="#cb0000"/>
<rect x="326.80" y="8.00" width="6.7" height="4.25" fill="#ff9f00"/>
<rect x="326.80" y="11.65" width="6.7" height="4.25" fill="#ff3500"/>
<rect x="326.80" y="15.30" width="6.7" height="4.25" fill="#ff3900"/>
<rect x="326.80" y="18.95" width="6.7" height="4.25" fill="#ff3500"/>
<rect x="326.80" y="22.60" width="6.7" height="4.25" fill="#ff7e00"/>
<rect x="326.80" y="26.25" width="6.7" height="4.25" fill="#ff7d00"/>
<rect x="326.80" y="29.90" width="6.7" height="4.25" fill="#ff5900"/>
<rect x="326.80" y="33.55" width="6.7" height="4.25" fill="#ff3100"/>
<rect x="326.80" y="37.20" width="6.7" height="4.25" fill="#ff7f00"/>
<rect x="326.80" y="40.85" width="6.7" height="4.25" fill="#ff2700"/>
<rect x="326.80" y="44.50" width="6.7" height="4.25" fill="#ff5200"/>
<rect x="326.80" y="48.15" width="6.7" height="4.25" fill="#ff8d00"/>
<rect x="326.80" y="51.80" width="6.7" height="4.25" fill="#ff8e00"/>
<rect x="326.80" y="55.45" width="6.7" height="4.25" fill="#ff1c00"/>
<rect x="326.80" y="59.10" width="6.7" height="4.25" fill="#ff7300"/>
<rect x="326.80" y="62.75" width="6.7" height="4.25" fill="#ff2e00"/>
<rect x="326.80" y="66.40" width="6.7" height="4.25" fill="#ff3400"/>
<rect x="326.80" y="70.05" width="6.7" height="4.25" fill="#ff4b00"/>
<rect x="326.80" y="73.70" width="6.7" height="4.25" fill="#ff6c00"/>
<rect x="326.80" y="77.35" width="6.7" height="4.25" fill="#ff5b00"/>
<rect x="326.80" y="81.00" width="6.7" height="4.25" fill="#ff3f00"/>
<rect x="326.80" y="84.65" width="6.7" height="4.25" fill="#ff5400"/>
<rect x="326.80" y="88.30" width="6.7" height="4.25" fill="#ff5a00"/>
<rect x="326.80" y="91.95" width="6.7" height="4.25" fill="#ff8800"/>
<rect x="326.80" y="95.60" width="6.7" height="4.25" fill="#ff3500"/>
<rect x="326.80" y="99.25" width="6.7" height="4.25" fill="#e40000"/>
<rect x="326.80" y="102.90" width="6.7" height="4.25" fill="#f70000"/>
<rect x="326.80" y="106.55" width="6.7" height="4.25" fill="#ff7d00"/>
<rect x="326.80" y="110.20" width="6.7" height="4.25" fill="#ffb500"/>
<rect x="326.80" y="113.85" width="6.7" height="4.25" fill="#ff7a00"/>
<rect x="326.80" y="117.50" width="6.7" height="4.25" fill="#ff8200"/>
<rect x="326.80" y="121.15" width="6.7" height="4.25" fill="#ff5200"/>
<rect x="326.80" y="124.80" width="6.7" height="4.25" fill="#ff4200"/>
<rect x="326.80" y="128.45" width="6.7" height="4.25" fill="#ff6e00"/>
<rect x="332.90" y="8.00" width="6.7" height="4.25" fill="#cfff2f"/>
<rect x="332.90" y="11.65" width="6.7" height="4.25" fill="#ffbf00"/>
<rect x="332.90" y="15.30" width="6.7" height="4.25" fill="#ffe900"/>
<rect x="332.90" y="18.95" width="6.7" height="4.25" fill="#f5ff09"/>
<rect x="332.90" y="22.60" width="6.7" height="4.25" fill="#fdff01"/>
<rect x="332.90" y="26.25" width="6.7" height="4.25" fill="#d3ff2b"/>
<rect x="332.90" y="29.90" width="6.7" height="4.25" fill="#faff04"/>
<rect x="332.90" y="33.55" width="6.7" height="4.25" fill="#f4ff0a"/>
<rect x="332.90" y="37.20" width="6.7" height="4.25" fill="#f1ff0d"/>
<rect x="332.90" y="40.85" width="6.7" height="4.25" fill="#d2ff2c"/>
<rect x="332.90" y="44.50" width="6.7" height="4.25" fill="#efff0f"/>
<rect x="332.90" y="48.15" width="6.7" height="4.25" fill="#a7ff57"/>
<rect x="332.90" y="51.80" width="6.7" height="4.25" fill="#86ff78"/>
<rect x="332.90" y="55.45" width="6.7" height="4.25" fill="#e9ff15"/>
<rect x="332.90" y="59.10" width="6.7" height="4.25" fill="#ecff12"/>
<rect x="332.90" y="62.75" width="6.7" height="4.25" fill="#ffec00"/>
<rect x="332.90" y="66.40" width="6.7" height="4.25" fill="#eaff14"/>
<rect x="332.90" y="70.05" width="6.7" height="4.25" fill="#c3ff3b"/>
<rect x="332.90" y="73.70" width="6.7" height="4.25" fill="#eeff10"/>
<rect x="332.90" y="77.35" width="6.7" height="4.25" fill="#fdff01"/>
<rect x="332.90" y="81.00" width="6.7" height="4.25" fill="#faff04"/>
<rect x="332.90" y="84.65" width="6.7" height="4.25" fill="#fff300"/>
<rect x="332.90" y="88.30" width="6.7" height="4.25" fill="#fff700"/>
<rect x="332.90" y="91.95" width="6.7" height="4.25" fill="#daff24"/>
<rect x="332.90" y="95.60" width="6.7" height="4.25" fill="#ebff13"/>
<rect x="332.90" y="99.25" width="6.7" height="4.25" fill="#ff9f00"/>
<rect x="332.90" y="102.90" width="6.7" height="4.25" fill="#ffad00"/>
<rect x="332.90" y="106.55" width="6.7" height="4.25" fill="#ceff30"/>
<rect x="332.90" y="110.20" width="6.7" height="4.25" fill="#f1ff0d"/>
<rect x="332.90" y="113.85" width="6.7" height="4.25" fill="#feff00"/>
<rect x="332.90" y="117.50" width="6.7" height="4.25" fill="#ffe500"/>
<rect x="332.90" y="121.15" width="6.7" height="4.25" fill="#cfff2f"/>
<rect x="332.90" y="124.80" width="6.7" height="4.25" fill="#ffd600"/>
<rect x="332.90" y="128.45" width="6.7" height="4.25" fill="#f2ff0c"/>
<rect x="339.00" y="8.00" width="6.7" height="4.25" fill="#05fff9"/>
<rect x="339.00" y="11.65" width="6.7" height="4.25" fill="#a4ff5a"/>
<rect x="339.00" y="15.30" width="6.7" height="4.25" fill="#53ffab"/>
<rect x="339.00" y="18.95" width="6.7" height="4.25" fill="#2cffd2"/>
<rect x="339.00" y="22.60" width="6.7" height="4.25" fill="#64ff9a"/>
<rect x="339.00" y="26.25" width="6.7" height="4.25" fill="#7eff80"/>
<rect x="339.00" y="29.90" width="6.7" height="4.25" fill="#5affa4"/>
<rect x="339.00" y="33.55" width="6.7" height="4.25" fill="#8eff70"/>
<rect x="339.00" y="37.20" width="6.7" height="4.25" fill="#62ff9c"/>
<rect x="339.00" y="40.85" width="6.7" height="4.25" fill="#1affe4"/>
<rect x="339.00" y="44.50" width="6.7" height="4.25" fill="#5effa0"/>
<rect x="339.00" y="48.15" width="6.7" height="4.25" fill="#30ffce"/>
<rect x="339.00" y="51.80" width="6.7" height="4.25" fill="#0bfff3"/>
<rect x="339.00" y="55.45" width="6.7" height="4.25" fill="#73ff8b"/>
<rect x="339.00" y="59.10" width="6.7" height="4.25" fill="#42ffbc"/>
<rect x="339.00" y="62.75" width="6.7" height="4.25" fill="#7dff81"/>
<rect x="339.00" y="66.40" width="6.7" height="4.25" fill="#6aff94"/>
<rect x="339.00" y="70.05" width="6.7" height="4.25" fill="#6cff92"/>
<rect x="339.00" y="73.70" width="6.7" height="4.25" fill="#65ff99"/>
<rect x="339.00" y="77.35" width="6.7" height="4.25" fill="#61ff9d"/>
<rect x="339.00" y="81.00" width="6.7" height="4.25" fill="#3fffbf"/>
<rect x="339.00" y="84.65" width="6.7" height="4.25" fill="#3affc4"/>
<rect x="339.00" y="88.30" width="6.7" height="4.25" fill="#98ff66"/>
<rect x="339.00" y="91.95" width="6.7" height="4.25" fill="#5cffa2"/>
<rect x="339.00" y="95.60" width="6.7" height="4.25" fill="#a7ff57"/>
<rect x="339.00" y="99.25" width="6.7" height="4.25" fill="#d6ff28"/>
<rect x="339.00" y="102.90" width="6.7" height="4.25" fill="#6fff8f"/>
<rect x="339.00" y="106.55" width="6.7" height="4.25" fill="#33ffcb"/>
<rect x="339.00" y="110.20" width="6.7" height="4.25" fill="#2fffcf"/>
<rect x="339.00" y="113.85" width="6.7" height="4.25" fill="#50ffae"/>
<rect x="339.00" y="117.50" width="6.7" height="4.25" fill="#3cffc2"/>
<rect x="339.00" y="121.15" width="6.7" height="4.25" fill="#31ffcd"/>
<rect x="339.00" y="124.80" width="6.7" height="4.25" fill="#3bffc3"/>
<rect x="339.00" y="128.45" width="6.7" height="4.25" fill="#2cffd2"/>
<rect x="345.10" y="8.00" width="6.7" height="4.25" fill="#00dfff"/>
<rect x="345.10" y="11.65" width="6.7" height="4.25" fill="#0efff0"/>
<rect x="345.10" y="15.30" width="6.7" height="4.25" fill="#03fffb"/>
<rect x="345.10" y="18.95" width="6.7" height="4.25" fill="#00dfff"/>
<rect x="345.10" y="22.60" width="6.7" height="4.25" fill="#00e8ff"/>
<rect x="345.10" y="26.25" width="6.7" height="4.25" fill="#08fff6"/>
<rect x="345.10" y="29.90" width="6.7" height="4.25" fill="#00f2ff"/>
<rect x="345.10" y="33.55" width="6.7" height="4.25" fill="#00eeff"/>
<rect x="345.10" y="37.20" width="6.7" height="4.25" fill="#00ebff"/>
<rect x="345.10" y="40.85" width="6.7" height="4.25" fill="#00f6ff"/>
<rect x="345.10" y="44.50" width="6.7" height="4.25" fill="#00f6ff"/>
<rect x="345.10" y="48.15" width="6.7" height="4.25" fill="#00d7ff"/>
<rect x="345.10" y="51.80" width="6.7" height="4.25" fill="#00d4ff"/>
<rect x="345.10" y="55.45" width="6.7" height="4.25" fill="#00f7ff"/>
<rect x="345.10" y="59.10" width="6.7" height="4.25" fill="#00dbff"/>
<rect x="345.10" y="62.75" width="6.7" height="4.25" fill="#06fff8"/>
<rect x="345.10" y="66.40" width="6.7" height="4.25" fill="#15ffe9"/>
<rect x="345.10" y="70.05" width="6.7" height="4.25" fill="#00e3ff"/>
<rect x="345.10" y="73.70" width="6.7" height="4.25" fill="#08fff6"/>
<rect x="345.10" y="77.35" width="6.7" height="4.25" fill="#09fff5"/>
<rect x="345.10" y="81.00" width="6.7" height="4.25" fill="#09fff5"/>
<rect x="345.10" y="84.65" width="6.7" height="4.25" fill="#00d8ff"/>
<rect x="345.10" y="88.30" width="6.7" height="4.25" fill="#08fff6"/>
<rect x="345.10" y="91.95" width="6.7" height="4.25" fill="#00f3ff"/>
<rect x="345.10" y="95.60" width="6.7" height="4.25" fill="#00faff"/>
<rect x="345.10" y="99.25" width="6.7" height="4.25" fill="#6eff90"/>
<rect x="345.10" y="102.90" width="6.7" height="4.25" fill="#44ffba"/>
<rect x="345.10" y="106.55" width="6.7" height="4.25" fill="#00fbff"/>
<rect x="345.10" y="110.20" width="6.7" height="4.25" fill="#00feff"/>
<rect x="345.10" y="113.85" width="6.7" height="4.25" fill="#00d9ff"/>
<rect x="345.10" y="117.50" width="6.7" height="4.25" fill="#00f3ff"/>
<rect x="345.10" y="121.15" width="6.7" height="4.25" fill="#00dbff"/>
<rect x="345.10" y="124.80" width="6.7" height="4.25" fill="#00fcff"/>
<rect x="345.10" y="128.45" width="6.7" height="4.25" fill="#00e6ff"/>
<rect x="351.20" y="8.00" width="6.7" height="4.25" fill="#00d7ff"/>
<rect x="351.20" y="11.65" width="6.7" height="4.25" fill="#00c7ff"/>
<rect x="351.20" y="15.30" width="6.7" height="4.25" fill="#00e0ff"/>
<rect x="351.20" y="18.95" width="6.7" height="4.25" fill="#00d3ff"/>
<rect x="351.20" y="22.60" width="6.7" height="4.25" fill="#00bcff"/>
<rect x="351.20" y="26.25" width="6.7" height="4.25" fill="#00bdff"/>
<rect x="351.20" y="29.90" width="6.7" height="4.25" fill="#00b2ff"/>
<rect x="351.20" y="33.55" width="6.7" height="4.25" fill="#00dcff"/>
<rect x="351.20" y="37.20" width="6.7" height="4.25" fill="#00c7ff"/>
<rect x="351.20" y="40.85" width="6.7" height="4.25" fill="#00d1ff"/>
<rect x="351.20" y="44.50" width="6.7" height="4.25" fill="#00beff"/>
<rect x="351.20" y="48.15" width="6.7" height="4.25" fill="#00c0ff"/>
<rect x="351.20" y="51.80" width="6.7" height="4.25" fill="#00b8ff"/>
<rect x="351.20" y="55.45" width="6.7" height="4.25" fill="#00d2ff"/>
<rect x="351.20" y="59.10" width="6.7" height="4.25" fill="#00c8ff"/>
<rect x="351.20" y="62.75" width="6.7" height="4.25" fill="#00c1ff"/>
<rect x="351.20" y="66.40" width="6.7" height="4.25" fill="#00c8ff"/>
<rect x="351.20" y="70.05" width="6.7" height="4.25" fill="#00bfff"/>
<rect x="351.20" y="73.70" width="6.7" height="4.25" fill="#00bfff"/>
<rect x="351.20" y="77.35" width="6.7" height="4.25" fill="#00ccff"/>
<rect x="351.20" y="81.00" width="6.7" height="4.25" fill="#00d2ff"/>
<rect x="351.20" y="84.65" width="6.7" height="4.25" fill="#00c4ff"/>
<rect x="351.20" y="88.30" width="6.7" height="4.25" fill="#00daff"/>
<rect x="351.20" y="91.95" width="6.7" height="4.25" fill="#00b7ff"/>
<rect x="351.20" y="95.60" width="6.7" height="4.25" fill="#00dcff"/>
<rect x="351.20" y="99.25" width="6.7" height="4.25" fill="#00e0ff"/>
<rect x="351.20" y="102.90" width="6.7" height="4.25" fill="#00d7ff"/>
<rect x="351.20" y="106.55" width="6.7" height="4.25" fill="#00afff"/>
<rect x="351.20" y="110.20" width="6.7" height="4.25" fill="#00a5ff"/>
<rect x="351.20" y="113.85" width="6.7" height="4.25" fill="#00a6ff"/>
<rect x="351.20" y="117.50" width="6.7" height="4.25" fill="#00acff"/>
<rect x="351.20" y="121.15" width="6.7" height="4.25" fill="#00ceff"/>
<rect x="351.20" y="124.80" width="6.7" height="4.25" fill="#00a9ff"/>
<rect x="351.20" y="128.45" width="6.7" height="4.25" fill="#00b4ff"/>
<rect x="357.30" y="8.00" width="6.7" height="4.25" fill="#0092ff"/>
<rect x="357.30" y="11.65" width="6.7" height="4.25" fill="#00a3ff"/>
<rect x="357.30" y="15.30" width="6.7" height="4.25" fill="#00bfff"/>
<rect x="357.30" y="18.95" width="6.7" height="4.25" fill="#0090ff"/>
<rect x="357.30" y="22.60" width="6.7" height="4.25" fill="#0074ff"/>
<rect x="357.30" y="26.25" width="6.7" height="4.25" fill="#00a8ff"/>
<rect x="357.30" y="29.90" width="6.7" height="4.25" fill="#0094ff"/>
<rect x="357.30" y="33.55" width="6.7" height="4.25" fill="#00ccff"/>
<rect x="357.30" y="37.20" width="6.7" height="4.25" fill="#007cff"/>
<rect x="357.30" y="40.85" width="6.7" height="4.25" fill="#0081ff"/>
<rect x="357.30" y="44.50" width="6.7" height="4.25" fill="#009bff"/>
<rect x="357.30" y="48.15" width="6.7" height="4.25" fill="#0064ff"/>
<rect x="357.30" y="51.80" width="6.7" height="4.25" fill="#008cff"/>
<rect x="357.30" y="55.45" width="6.7" height="4.25" fill="#00b1ff"/>
<rect x="357.30" y="59.10" width="6.7" height="4.25" fill="#00b1ff"/>
<rect x="357.30" y="62.75" width="6.7" height="4.25" fill="#00a4ff"/>
<rect x="357.30" y="66.40" width="6.7" height="4.25" fill="#00a1ff"/>
<rect x="357.30" y="70.05" width="6.7" height="4.25" fill="#0093ff"/>
<rect x="357.30" y="73.70" width="6.7" height="4.25" fill="#00abff"/>
<rect x="357.30" y="77.35" width="6.7" height="4.25" fill="#009eff"/>
<rect x="357.30" y="81.00" width="6.7" height="4.25" fill="#009fff"/>
<rect x="357.30" y="84.65" width="6.7" height="4.25" fill="#0086ff"/>
<rect x="357.30" y="88.30" width="6.7" height="4.25" fill="#00a0ff"/>
<rect x="357.30" y="91.95" width="6.7" height="4.25" fill="#0098ff"/>
<rect x="357.30" y="95.60" width="6.7" height="4.25" fill="#00b8ff"/>
<rect x="357.30" y="99.25" width="6.7" height="4.25" fill="#00ccff"/>
<rect x="357.30" y="102.90" width="6.7" height="4.25" fill="#009aff"/>
<rect x="357.30" y="106.55" width="6.7" height="4.25" fill="#0093ff"/>
<rect x="357.30" y="110.20" width="6.7" height="4.25" fill="#0099ff"/>
<rect x="357.30" y="113.85" width="6.7" height="4.25" fill="#0074ff"/>
<rect x="357.30" y="117.50" width="6.7" height="4.25" fill="#0099ff"/>
<rect x="357.30" y="121.15" width="6.7" height="4.25" fill="#00a1ff"/>
<rect x="357.30" y="124.80" width="6.7" height="4.25" fill="#0093ff"/>
<rect x="357.30" y="128.45" width="6.7" height="4.25" fill="#0091ff"/>
<rect x="363.40" y="8.00" width="6.7" height="4.25" fill="#005bff"/>
<rect x="363.40" y="11.65" width="6.7" height="4.25" fill="#0084ff"/>
<rect x="363.40" y="15.30" width="6.7" height="4.25" fill="#007aff"/>
<rect x="363.40" y="18.95" width="6.7" height="4.25" fill="#0069ff"/>
<rect x="363.40" y="22.60" width="6.7" height="4.25" fill="#0047ff"/>
<rect x="363.40" y="26.25" width="6.7" height="4.25" fill="#005fff"/>
<rect x="363.40" y="29.90" width="6.7" height="4.25" fill="#0071ff"/>
<rect x="363.40" y="33.55" width="6.7" height="4.25" fill="#0084ff"/>
<rect x="363.40" y="37.20" width="6.7" height="4.25" fill="#0050ff"/>
<rect x="363.40" y="40.85" width="6.7" height="4.25" fill="#0058ff"/>
<rect x="363.40" y="44.50" width="6.7" height="4.25" fill="#0077ff"/>
<rect x="363.40" y="48.15" width="6.7" height="4.25" fill="#003fff"/>
<rect x="363.40" y="51.80" width="6.7" height="4.25" fill="#0056ff"/>
<rect x="363.40" y="55.45" width="6.7" height="4.25" fill="#0073ff"/>
<rect x="363.40" y="59.10" width="6.7" height="4.25" fill="#0054ff"/>
<rect x="363.40" y="62.75" width="6.7" height="4.25" fill="#0055ff"/>
<rect x="363.40" y="66.40" width="6.7" height="4.25" fill="#0079ff"/>
<rect x="363.40" y="70.05" width="6.7" height="4.25" fill="#003aff"/>
<rect x="363.40" y="73.70" width="6.7" height="4.25" fill="#0067ff"/>
<rect x="363.40" y="77.35" width="6.7" height="4.25" fill="#0076ff"/>
<rect x="363.40" y="81.00" width="6.7" height="4.25" fill="#0070ff"/>
<rect x="363.40" y="84.65" width="6.7" height="4.25" fill="#0053ff"/>
<rect x="363.40" y="88.30" width="6.7" height="4.25" fill="#0062ff"/>
<rect x="363.40" y="91.95" width="6.7" height="4.25" fill="#007cff"/>
<rect x="363.40" y="95.60" width="6.7" height="4.25" fill="#0061ff"/>
<rect x="363.40" y="99.25" width="6.7" height="4.25" fill="#00a1ff"/>
<rect x="363.40" y="102.90" width="6.7" height="4.25" fill="#007eff"/>
<rect x="363.40" y="106.55" width="6.7" height="4.25" fill="#0051ff"/>
<rect x="363.40" y="110.20" width="6.7" height="4.25" fill="#006bff"/>
<rect x="363.40" y="113.85" width="6.7" height="4.25" fill="#0044ff"/>
<rect x="363.40" y="117.50" width="6.7" height="4.25" fill="#0058ff"/>
<rect x="363.40" y="121.15" width="6.7" height="4.25" fill="#0058ff"/>
<rect x="363.40" y="124.80" width="6.7" height="4.25" fill="#0063ff"/>
<rect x="363.40" y="128.45" width="6.7" height="4.25" fill="#0068ff"/>
<rect x="369.50" y="8.00" width="6.7" height="4.25" fill="#0033ff"/>
<rect x="369.50" y="11.65" width="6.7" height="4.25" fill="#0050ff"/>
<rect x="369.50" y="15.30" width="6.7" height="4.25" fill="#0033ff"/>
<rect x="369.50" y="18.95" width="6.7" height="4.25" fill="#0025ff"/>
<rect x="369.50" y="22.60" width="6.7" height="4.25" fill="#002fff"/>
<rect x="369.50" y="26.25" width="6.7" height="4.25" fill="#0044ff"/>
<rect x="369.50" y="29.90" width="6.7" height="4.25" fill="#002fff"/>
<rect x="369.50" y="33.55" width="6.7" height="4.25" fill="#0035ff"/>
<rect x="369.50" y="37.20" width="6.7" height="4.25" fill="#0017ff"/>
<rect x="369.50" y="40.85" width="6.7" height="4.25" fill="#000fff"/>
<rect x="369.50" y="44.50" width="6.7" height="4.25" fill="#0045ff"/>
<rect x="369.50" y="48.15" width="6.7" height="4.25" fill="#0017ff"/>
<rect x="369.50" y="51.80" width="6.7" height="4.25" fill="#0021ff"/>
<rect x="369.50" y="55.45" width="6.7" height="4.25" fill="#0044ff"/>
<rect x="369.50" y="59.10" width="6.7" height="4.25" fill="#004fff"/>
<rect x="369.50" y="62.75" width="6.7" height="4.25" fill="#002cff"/>
<rect x="369.50" y="66.40" width="6.7" height="4.25" fill="#0049ff"/>
<rect x="369.50" y="70.05" width="6.7" height="4.25" fill="#0016ff"/>
<rect x="369.50" y="73.70" width="6.7" height="4.25" fill="#0046ff"/>
<rect x="369.50" y="77.35" width="6.7" height="4.25" fill="#0032ff"/>
<rect x="369.50" y="81.00" width="6.7" height="4.25" fill="#0039ff"/>
<rect x="369.50" y="84.65" width="6.7" height="4.25" fill="#0039ff"/>
<rect x="369.50" y="88.30" width="6.7" height="4.25" fill="#0037ff"/>
<rect x="369.50" y="91.95" width="6.7" height="4.25" fill="#0041ff"/>
<rect x="369.50" y="95.60" width="6.7" height="4.25" fill="#0060ff"/>
<rect x="369.50" y="99.25" width="6.7" height="4.25" fill="#0071ff"/>
<rect x="369.50" y="102.90" width="6.7" height="4.25" fill="#0060ff"/>
<rect x="369.50" y="106.55" width="6.7" height="4.25" fill="#0031ff"/>
<rect x="369.50" y="110.20" width="6.7" height="4.25" fill="#003bff"/>
<rect x="369.50" y="113.85" width="6.7" height="4.25" fill="#000aff"/>
<rect x="369.50" y="117.50" width="6.7" height="4.25" fill="#0046ff"/>
<rect x="369.50" y="121.15" width="6.7" height="4.25" fill="#0018ff"/>
<rect x="369.50" y="124.80" width="6.7" height="4.25" fill="#0032ff"/>
<rect x="369.50" y="128.45" width="6.7" height="4.25" fill="#0048ff"/>
<rect x="375.60" y="8.00" width="6.7" height="4.25" fill="#0000fe"/>
<rect x="375.60" y="11.65" width="6.7" height="4.25" fill="#0032ff"/>
<rect x="375.60" y="15.30" width="6.7" height="4.25" fill="#001fff"/>
<rect x="375.60" y="18.95" width="6.7" height="4.25" fill="#0004ff"/>
<rect x="375.60" y="22.60" width="6.7" height="4.25" fill="#0000f4"/>
<rect x="375.60" y="26.25" width="6.7" height="4.25" fill="#0002ff"/>
<rect x="375.60" y="29.90" width="6.7" height="4.25" fill="#0012ff"/>
<rect x="375.60" y="33.55" width="6.7" height="4.25" fill="#001eff"/>
<rect x="375.60" y="37.20" width="6.7" height="4.25" fill="#0004ff"/>
<rect x="375.60" y="40.85" width="6.7" height="4.25" fill="#0000fc"/>
<rect x="375.60" y="44.50" width="6.7" height="4.25" fill="#0013ff"/>
<rect x="375.60" y="48.15" width="6.7" height="4.25" fill="#0000fa"/>
<rect x="375.60" y="51.80" width="6.7" height="4.25" fill="#0006ff"/>
<rect x="375.60" y="55.45" width="6.7" height="4.25" fill="#000eff"/>
<rect x="375.60" y="59.10" width="6.7" height="4.25" fill="#0008ff"/>
<rect x="375.60" y="62.75" width="6.7" height="4.25" fill="#0019ff"/>
<rect x="375.60" y="66.40" width="6.7" height="4.25" fill="#0018ff"/>
<rect x="375.60" y="70.05" width="6.7" height="4.25" fill="#0000f5"/>
<rect x="375.60" y="73.70" width="6.7" height="4.25" fill="#0011ff"/>
<rect x="375.60" y="77.35" width="6.7" height="4.25" fill="#000eff"/>
<rect x="375.60" y="81.00" width="6.7" height="4.25" fill="#001eff"/>
<rect x="375.60" y="84.65" width="6.7" height="4.25" fill="#0000ff"/>
<rect x="375.60" y="88.30" width="6.7" height="4.25" fill="#001bff"/>
<rect x="375.60" y="91.95" width="6.7" height="4.25" fill="#000fff"/>
<rect x="375.60" y="95.60" width="6.7" height="4.25" fill="#0038ff"/>
<rect x="375.60" y="99.25" width="6.7" height="4.25" fill="#002bff"/>
<rect x="375.60" y="102.90" width="6.7" height="4.25" fill="#002fff"/>
<rect x="375.60" y="106.55" width="6.7" height="4.25" fill="#0000fe"/>
<rect x="375.60" y="110.20" width="6.7" height="4.25" fill="#000fff"/>
<rect x="375.60" y="113.85" width="6.7" height="4.25" fill="#0000e7"/>
<rect x="375.60" y="117.50" width="6.7" height="4.25" fill="#000aff"/>
<rect x="375.60" y="121.15" width="6.7" height="4.25" fill="#0007ff"/>
<rect x="375.60" y="124.80" width="6.7" height="4.25" fill="#0007ff"/>
<rect x="375.60" y="128.45" width="6.7" height="4.25" fill="#0008ff"/>
<rect x="381.70" y="8.00" width="6.7" height="4.25" fill="#0000f0"/>
<rect x="381.70" y="11.65" width="6.7" height="4.25" fill="#0000ff"/>
<rect x="381.70" y="15.30" width="6.7" height="4.25" fill="#0007ff"/>
<rect x="381.70" y="18.95" width="6.7" height="4.25" fill="#0000ec"/>
<rect x="381.70" y="22.60" width="6.7" height="4.25" fill="#0000ee"/>
<rect x="381.70" y="26.25" width="6.7" height="4.25" fill="#0000ed"/>
<rect x="381.70" y="29.90" width="6.7" height="4.25" fill="#0000f1"/>
<rect x="381.70" y="33.55" width="6.7" height="4.25" fill="#0000f2"/>
<rect x="381.70" y="37.20" width="6.7" height="4.25" fill="#0000f3"/>
<rect x="381.70" y="40.85" width="6.7" height="4.25" fill="#0000eb"/>
<rect x="381.70" y="44.50" width="6.7" height="4.25" fill="#0000eb"/>
<rect x="381.70" y="48.15" width="6.7" height="4.25" fill="#0000dd"/>
<rect x="381.70" y="51.80" width="6.7" height="4.25" fill="#0000e9"/>
<rect x="381.70" y="55.45" width="6.7" height="4.25" fill="#0000ef"/>
<rect x="381.70" y="59.10" width="6.7" height="4.25" fill="#0000ea"/>
<rect x="381.70" y="62.75" width="6.7" height="4.25" fill="#0000eb"/>
<rect x="381.70" y="66.40" width="6.7" height="4.25" fill="#0000ff"/>
<rect x="381.70" y="70.05" width="6.7" height="4.25" fill="#0000da"/>
<rect x="381.70" y="73.70" width="6.7" height="4.25" fill="#0000ef"/>
<rect x="381.70" y="77.35" width="6.7" height="4.25" fill="#0000f6"/>
<rect x="381.70" y="81.00" width="6.7" height="4.25" fill="#000aff"/>
<rect x="381.70" y="84.65" width="6.7" height="4.25" fill="#0000e3"/>
<rect x="381.70" y="88.30" width="6.7" height="4.25" fill="#0000f6"/>
<rect x="381.70" y="91.95" width="6.7" height="4.25" fill="#0000f0"/>
<rect x="381.70" y="95.60" width="6.7" height="4.25" fill="#0005ff"/>
<rect x="381.70" y="99.25" width="6.7" height="4.25" fill="#0017ff"/>
<rect x="381.70" y="102.90" width="6.7" height="4.25" fill="#000bff"/>
<rect x="381.70" y="106.55" width="6.7" height="4.25" fill="#0000ee"/>
<rect x="381.70" y="110.20" width="6.7" height="4.25" fill="#0000f5"/>
<rect x="381.70" y="113.85" width="6.7" height="4.25" fill="#0000dc"/>
<rect x="381.70" y="117.50" width="6.7" height="4.25" fill="#0000f2"/>
<rect x="381.70" y="121.15" width="6.7" height="4.25" fill="#0000e3"/>
<rect x="381.70" y="124.80" width="6.7" height="4.25" fill="#0000ec"/>
<rect x="381.70" y="128.45" width="6.7" height="4.25" fill="#0000f0"/>
<rect x="387.80" y="8.00" width="6.7" height="4.25" fill="#0000ec"/>
<rect x="387.80" y="11.65" width="6.7" height="4.25" fill="#0000f1"/>
<rect x="387.80" y="15.30" width="6.7" height="4.25" fill="#0000ee"/>
<rect x="387.80" y="18.95" width="6.7" height="4.25" fill="#0000e6"/>
<rect x="387.80" y="22.60" width="6.7" height="4.25" fill="#0000dd"/>
<rect x="387.80" y="26.25" width="6.7" height="4.25" fill="#0000e6"/>
<rect x="387.80" y="29.90" width="6.7" height="4.25" fill="#0000e5"/>
<rect x="387.80" y="33.55" width="6.7" height="4.25" fill="#0000ea"/>
<rect x="387.80" y="37.20" width="6.7" height="4.25" fill="#0000de"/>
<rect x="387.80" y="40.85" width="6.7" height="4.25" fill="#0000d7"/>
<rect x="387.80" y="44.50" width="6.7" height="4.25" fill="#0000df"/>
<rect x="387.80" y="48.15" width="6.7" height="4.25" fill="#0000e8"/>
<rect x="387.80" y="51.80" width="6.7" height="4.25" fill="#0000d2"/>
<rect x="387.80" y="55.45" width="6.7" height="4.25" fill="#0000e5"/>
<rect x="387.80" y="59.10" width="6.7" height="4.25" fill="#0000e4"/>
<rect x="387.80" y="62.75" width="6.7" height="4.25" fill="#0000e3"/>
<rect x="387.80" y="66.40" width="6.7" height="4.25" fill="#0000e3"/>
<rect x="387.80" y="70.05" width="6.7" height="4.25" fill="#0000dd"/>
<rect x="387.80" y="73.70" width="6.7" height="4.25" fill="#0000e4"/>
<rect x="387.80" y="77.35" width="6.7" height="4.25" fill="#0000e2"/>
<rect x="387.80" y="81.00" width="6.7" height="4.25" fill="#0000e9"/>
<rect x="387.80" y="84.65" width="6.7" height="4.25" fill="#0000db"/>
<rect x="387.80" y="88.30" width="6.7" height="4.25" fill="#0000e9"/>
<rect x="387.80" y="91.95" width="6.7" height="4.25" fill="#0000f2"/>
<rect x="387.80" y="95.60" width="6.7" height="4.25" fill="#0000f6"/>
<rect x="387.80" y="99.25" width="6.7" height="4.25" fill="#0000fb"/>
<rect x="387.80" y="102.90" width="6.7" height="4.25" fill="#0000ea"/>
<rect x="387.80" y="106.55" width="6.7" height="4.25" fill="#0000e1"/>
<rect x="387.80" y="110.20" width="6.7" height="4.25" fill="#0000e9"/>
<rect x="387.80" y="113.85" width="6.7" height="4.25" fill="#0000e4"/>
<rect x="387.80" y="117.50" width="6.7" height="4.25" fill="#0000e4"/>
<rect x="387.80" y="121.15" width="6.7" height="4.25" fill="#0000e0"/>
<rect x="387.80" y="124.80" width="6.7" height="4.25" fill="#0000db"/>
<rect x="387.80" y="128.45" width="6.7" height="4.25" fill="#0000e3"/>
<rect x="393.90" y="8.00" width="6.7" height="4.25" fill="#0000db"/>
<rect x="393.90" y="11.65" width="6.7" height="4.25" fill="#0000de"/>
<rect x="393.90" y="15.30" width="6.7" height="4.25" fill="#0000dd"/>
<rect x="393.90" y="18.95" width="6.7" height="4.25" fill="#0000d9"/>
<rect x="393.90" y="22.60" width="6.7" height="4.25" fill="#0000da"/>
<rect x="393.90" y="26.25" width="6.7" height="4.25" fill="#0000d7"/>
<rect x="393.90" y="29.90" width="6.7" height="4.25" fill="#0000e0"/>
<rect x="393.90" y="33.55" width="6.7" height="4.25" fill="#0000d9"/>
<rect x="393.90" y="37.20" width="6.7" height="4.25" fill="#0000da"/>
<rect x="393.90" y="40.85" width="6.7" height="4.25" fill="#0000e0"/>
<rect x="393.90" y="44.50" width="6.7" height="4.25" fill="#0000d9"/>
<rect x="393.90" y="48.15" width="6.7" height="4.25" fill="#0000d5"/>
<rect x="393.90" y="51.80" width="6.7" height="4.25" fill="#0000d6"/>
<rect x="393.90" y="55.45" width="6.7" height="4.25" fill="#0000da"/>
<rect x="393.90" y="59.10" width="6.7" height="4.25" fill="#0000dd"/>
<rect x="393.90" y="62.75" width="6.7" height="4.25" fill="#0000d1"/>
<rect x="393.90" y="66.40" width="6.7" height="4.25" fill="#0000e1"/>
<rect x="393.90" y="70.05" width="6.7" height="4.25" fill="#0000cc"/>
<rect x="393.90" y="73.70" width="6.7" height="4.25" fill="#0000d6"/>
<rect x="393.90" y="77.35" width="6.7" height="4.25" fill="#0000e3"/>
<rect x="393.90" y="81.00" width="6.7" height="4.25" fill="#0000d8"/>
<rect x="393.90" y="84.65" width="6.7" height="4.25" fill="#0000e1"/>
<rect x="393.90" y="88.30" width="6.7" height="4.25" fill="#0000e7"/>
<rect x="393.90" y="91.95" width="6.7" height="4.25" fill="#0000e2"/>
<rect x="393.90" y="95.60" width="6.7" height="4.25" fill="#0000e7"/>
<rect x="393.90" y="99.25" width="6.7" height="4.25" fill="#0000e8"/>
<rect x="393.90" y="102.90" width="6.7" height="4.25" fill="#0000df"/>
<rect x="393.90" y="106.55" width="6.7" height="4.25" fill="#0000e6"/>
<rect x="393.90" y="110.20" width="6.7" height="4.25" fill="#0000d7"/>
<rect x="393.90" y="113.85" width="6.7" height="4.25" fill="#0000d5"/>
<rect x="393.90" y="117.50" width="6.7" height="4.25" fill="#0000dd"/>
<rect x="393.90" y="121.15" width="6.7" height="4.25" fill="#0000d5"/>
<rect x="393.90" y="124.80" width="6.7" height="4.25" fill="#0000d2"/>
<rect x="393.90" y="128.45" width="6.7" height="4.25" fill="#0000dc"/>
<rect x="400.00" y="8.00" width="6.7" height="4.25" fill="#0000d6"/>
<rect x="400.00" y="11.65" width="6.7" height="4.25" fill="#0000cf"/>
<rect x="400.00" y="15.30" width="6.7" height="4.25" fill="#0000d7"/>
<rect x="400.00" y="18.95" width="6.7" height="4.25" fill="#0000d0"/>
<rect x="400.00" y="22.60" width="6.7" height="4.25" fill="#0000d2"/>
<rect x="400.00" y="26.25" width="6.7" height="4.25" fill="#0000d9"/>
<rect x="400.00" y="29.90" width="6.7" height="4.25" fill="#0000db"/>
<rect x="400.00" y="33.55" width="6.7" height="4.25" fill="#0000ce"/>
<rect x="400.00" y="37.20" width="6.7" height="4.25" fill="#0000d3"/>
<rect x="400.00" y="40.85" width="6.7" height="4.25" fill="#0000cf"/>
<rect x="400.00" y="44.50" width="6.7" height="4.25" fill="#0000cd"/>
<rect x="400.00" y="48.15" width="6.7" height="4.25" fill="#0000d6"/>
<rect x="400.00" y="51.80" width="6.7" height="4.25" fill="#0000d1"/>
<rect x="400.00" y="55.45" width="6.7" height="4.25" fill="#0000d5"/>
<rect x="400.00" y="59.10" width="6.7" height="4.25" fill="#0000c9"/>
<rect x="400.00" y="62.75" width="6.7" height="4.25" fill="#0000d8"/>
<rect x="400.00" y="66.40" width="6.7" height="4.25" fill="#0000d8"/>
<rect x="400.00" y="70.05" width="6.7" height="4.25" fill="#0000d6"/>
<rect x="400.00" y="73.70" width="6.7" height="4.25" fill="#0000d2"/>
<rect x="400.00" y="77.35" width="6.7" height="4.25" fill="#0000e0"/>
<rect x="400.00" y="81.00" width="6.7" height="4.25" fill="#0000db"/>
<rect x="400.00" y="84.65" width="6.7" height="4.25" fill="#0000d2"/>
<rect x="400.00" y="88.30" width="6.7" height="4.25" fill="#0000d9"/>
<rect x="400.00" y="91.95" width="6.7" height="4.25" fill="#0000da"/>
<rect x="400.00" y="95.60" width="6.7" height="4.25" fill="#0000d6"/>
<rect x="400.00" y="99.25" width="6.7" height="4.25" fill="#0000e5"/>
<rect x="400.00" y="102.90" width="6.7" height="4.25" fill="#0000db"/>
<rect x="400.00" y="106.55" width="6.7" height="4.25" fill="#0000d9"/>
<rect x="400.00" y="110.20" width="6.7" height="4.25" fill="#0000dd"/>
<rect x="400.00" y="113.85" width="6.7" height="4.25" fill="#0000e1"/>
<rect x="400.00" y="117.50" width="6.7" height="4.25" fill="#0000d5"/>
<rect x="400.00" y="121.15" width="6.7" height="4.25" fill="#0000d1"/>
<rect x="400.00" y="124.80" width="6.7" height="4.25" fill="#0000d8"/>
<rect x="400.00" y="128.45" width="6.7" height="4.25" fill="#0000d4"/>
<rect x="406.10" y="8.00" width="6.7" height="4.25" fill="#0000c5"/>
<rect x="406.10" y="11.65" width="6.7" height="4.25" fill="#0000e1"/>
<rect x="406.10" y="15.30" width="6.7" height="4.25" fill="#0000d8"/>
<rect x="406.10" y="18.95" width="6.7" height="4.25" fill="#0000c8"/>
<rect x="406.10" y="22.60" width="6.7" height="4.25" fill="#0000cd"/>
<rect x="406.10" y="26.25" width="6.7" height="4.25" fill="#0000d4"/>
<rect x="406.10" y="29.90" width="6.7" height="4.25" fill="#0000d1"/>
<rect x="406.10" y="33.55" width="6.7" height="4.25" fill="#0000d0"/>
<rect x="406.10" y="37.20" width="6.7" height="4.25" fill="#0000d3"/>
<rect x="406.10" y="40.85" width="6.7" height="4.25" fill="#0000d6"/>
<rect x="406.10" y="44.50" width="6.7" height="4.25" fill="#0000d9"/>
<rect x="406.10" y="48.15" width="6.7" height="4.25" fill="#0000d2"/>
<rect x="406.10" y="51.80" width="6.7" height="4.25" fill="#0000d4"/>
<rect x="406.10" y="55.45" width="6.7" height="4.25" fill="#0000ca"/>
<rect x="406.10" y="59.10" width="6.7" height="4.25" fill="#0000ca"/>
<rect x="406.10" y="62.75" width="6.7" height="4.25" fill="#0000d2"/>
<rect x="406.10" y="66.40" width="6.7" height="4.25" fill="#0000d1"/>
<rect x="406.10" y="70.05" width="6.7" height="4.25" fill="#0000d1"/>
<rect x="406.10" y="73.70" width="6.7" height="4.25" fill="#0000cd"/>
<rect x="406.10" y="77.35" width="6.7" height="4.25" fill="#0000d0"/>
<rect x="406.10" y="81.00" width="6.7" height="4.25" fill="#0000d4"/>
<rect x="406.10" y="84.65" width="6.7" height="4.25" fill="#0000c5"/>
<rect x="406.10" y="88.30" width="6.7" height="4.25" fill="#0000cc"/>
<rect x="406.10" y="91.95" width="6.7" height="4.25" fill="#0000d6"/>
<rect x="406.10" y="95.60" width="6.7" height="4.25" fill="#0000d5"/>
<rect x="406.10" y="99.25" width="6.7" height="4.25" fill="#0000d1"/>
<rect x="406.10" y="102.90" width="6.7" height="4.25" fill="#0000d6"/>
<rect x="406.10" y="106.55" width="6.7" height="4.25" fill="#0000db"/>
<rect x="406.10" y="110.20" width="6.7" height="4.25" fill="#0000db"/>
<rect x="406.10" y="113.85" width="6.7" height="4.25" fill="#0000c9"/>
<rect x="406.10" y="117.50" width="6.7" height="4.25" fill="#0000ce"/>
<rect x="406.10" y="121.15" width="6.7" height="4.25" fill="#0000c6"/>
<rect x="406.10" y="124.80" width="6.7" height="4.25" fill="#0000ce"/>
<rect x="406.10" y="128.45" width="6.7" height="4.25" fill="#0000ca"/>
<rect x="412.20" y="8.00" width="6.7" height="4.25" fill="#0000cc"/>
<rect x="412.20" y="11.65" width="6.7" height="4.25" fill="#0000d4"/>
<rect x="412.20" y="15.30" width="6.7" height="4.25" fill="#0000d1"/>
<rect x="412.20" y="18.95" width="6.7" height="4.25" fill="#0000cf"/>
<rect x="412.20" y="22.60" width="6.7" height="4.25" fill="#0000c7"/>
<rect x="412.20" y="26.25" width="6.7" height="4.25" fill="#0000d6"/>
<rect x="412.20" y="29.90" width="6.7" height="4.25" fill="#0000cf"/>
<rect x="412.20" y="33.55" width="6.7" height="4.25" fill="#0000c8"/>
<rect x="412.20" y="37.20" width="6.7" height="4.25" fill="#0000d1"/>
<rect x="412.20" y="40.85" width="6.7" height="4.25" fill="#0000d7"/>
<rect x="412.20" y="44.50" width="6.7" height="4.25" fill="#0000c9"/>
<rect x="412.20" y="48.15" width="6.7" height="4.25" fill="#0000d3"/>
<rect x="412.20" y="51.80" width="6.7" height="4.25" fill="#0000c9"/>
<rect x="412.20" y="55.45" width="6.7" height="4.25" fill="#0000d6"/>
<rect x="412.20" y="59.10" width="6.7" height="4.25" fill="#0000d4"/>
<rect x="412.20" y="62.75" width="6.7" height="4.25" fill="#0000cf"/>
<rect x="412.20" y="66.40" width="6.7" height="4.25" fill="#0000cc"/>
<rect x="412.20" y="70.05" width="6.7" height="4.25" fill="#0000c8"/>
<rect x="412.20" y="73.70" width="6.7" height="4.25" fill="#0000cb"/>
<rect x="412.20" y="77.35" width="6.7" height="4.25" fill="#0000d6"/>
<rect x="412.20" y="81.00" width="6.7" height="4.25" fill="#0000d4"/>
<rect x="412.20" y="84.65" width="6.7" height="4.25" fill="#0000d0"/>
<rect x="412.20" y="88.30" width="6.7" height="4.25" fill="#0000cd"/>
<rect x="412.20" y="91.95" width="6.7" height="4.25" fill="#0000d0"/>
<rect x="412.20" y="95.60" width="6.7" height="4.25" fill="#0000d5"/>
<rect x="412.20" y="99.25" width="6.7" height="4.25" fill="#0000c6"/>
<rect x="412.20" y="102.90" width="6.7" height="4.25" fill="#0000cf"/>
<rect x="412.20" y="106.55" width="6.7" height="4.25" fill="#0000d0"/>
<rect x="412.20" y="110.20" width="6.7" height="4.25" fill="#0000ca"/>
<rect x="412.20" y="113.85" width="6.7" height="4.25" fill="#0000cd"/>
<rect x="412.20" y="117.50" width="6.7" height="4.25" fill="#0000cf"/>
<rect x="412.20" y="121.15" width="6.7" height="4.25" fill="#0000c9"/>
<rect x="412.20" y="124.80" width="6.7" height="4.25" fill="#0000c9"/>
<rect x="412.20" y="128.45" width="6.7" height="4.25" fill="#0000c8"/>
<rect x="418.30" y="8.00" width="6.7" height="4.25" fill="#0000ca"/>
<rect x="418.30" y="11.65" width="6.7" height="4.25" fill="#0000d0"/>
<rect x="418.30" y="15.30" width="6.7" height="4.25" fill="#0000d5"/>
<rect x="418.30" y="18.95" width="6.7" height="4.25" fill="#0000cf"/>
<rect x="418.30" y="22.60" width="6.7" height="4.25" fill="#0000ce"/>
<rect x="418.30" y="26.25" width="6.7" height="4.25" fill="#0000cb"/>
<rect x="418.30" y="29.90" width="6.7" height="4.25" fill="#0000d1"/>
<rect x="418.30" y="33.55" width="6.7" height="4.25" fill="#0000cd"/>
<rect x="418.30" y="37.20" width="6.7" height="4.25" fill="#0000d6"/>
<rect x="418.30" y="40.85" width="6.7" height="4.25" fill="#0000d0"/>
<rect x="418.30" y="44.50" width="6.7" height="4.25" fill="#0000d5"/>
<rect x="418.30" y="48.15" width="6.7" height="4.25" fill="#0000d2"/>
<rect x="418.30" y="51.80" width="6.7" height="4.25" fill="#0000d0"/>
<rect x="418.30" y="55.45" width="6.7" height="4.25" fill="#0000d1"/>
<rect x="418.30" y="59.10" width="6.7" height="4.25" fill="#0000cb"/>
<rect x="418.30" y="62.75" width="6.7" height="4.25" fill="#0000d4"/>
<rect x="418.30" y="66.40" width="6.7" height="4.25" fill="#0000cf"/>
<rect x="418.30" y="70.05" width="6.7" height="4.25" fill="#0000cb"/>
<rect x="418.30" y="73.70" width="6.7" height="4.25" fill="#0000d0"/>
<rect x="418.30" y="77.35" width="6.7" height="4.25" fill="#0000d5"/>
<rect x="418.30" y="81.00" width="6.7" height="4.25" fill="#0000d0"/>
<rect x="418.30" y="84.65" width="6.7" height="4.25" fill="#0000c2"/>
<rect x="418.30" y="88.30" width="6.7" height="4.25" fill="#0000cc"/>
<rect x="418.30" y="91.95" width="6.7" height="4.25" fill="#0000d0"/>
<rect x="418.30" y="95.60" width="6.7" height="4.25" fill="#0000d3"/>
<rect x="418.30" y="99.25" width="6.7" height="4.25" fill="#0000cc"/>
<rect x="418.30" y="102.90" width="6.7" height="4.25" fill="#0000d1"/>
<rect x="418.30" y="106.55" width="6.7" height="4.25" fill="#0000d4"/>
<rect x="418.30" y="110.20" width="6.7" height="4.25" fill="#0000d2"/>
<rect x="418.30" y="113.85" width="6.7" height="4.25" fill="#0000c6"/>
<rect x="418.30" y="117.50" width="6.7" height="4.25" fill="#0000cc"/>
<rect x="418.30" y="121.15" width="6.7" height="4.25" fill="#0000cb"/>
<rect x="418.30" y="124.80" width="6.7" height="4.25" fill="#0000cd"/>
<rect x="418.30" y="128.45" width="6.7" height="4.25" fill="#0000cf"/>
</g>
<path d="M270.5,80 C272.5,102 279,120 296,131.8" fill="none" stroke="#fff" stroke-width="0.8" stroke-dasharray="2.4,2"/>
<path d="M368,80 C365.5,102 356,124 333,132" fill="none" stroke="#fff" stroke-width="0.8" stroke-dasharray="2.4,2"/>
<path d="M219.2,8 L219.2,132.1 L421.7,132.1" fill="none" stroke="#2a2a3a" stroke-width="0.9"/>
<line x1="219.2" y1="131.80" x2="222.20" y2="131.80" stroke="#333" stroke-width="0.8"/>
<line x1="421.7" y1="131.80" x2="418.70" y2="131.80" stroke="#333" stroke-width="0.8"/>
<line x1="219.2" y1="116.67" x2="221.00" y2="116.67" stroke="#333" stroke-width="0.8"/>
<line x1="219.2" y1="101.54" x2="222.20" y2="101.54" stroke="#333" stroke-width="0.8"/>
<line x1="421.7" y1="101.54" x2="418.70" y2="101.54" stroke="#333" stroke-width="0.8"/>
<line x1="219.2" y1="86.41" x2="221.00" y2="86.41" stroke="#333" stroke-width="0.8"/>
<line x1="219.2" y1="71.28" x2="222.20" y2="71.28" stroke="#333" stroke-width="0.8"/>
<line x1="421.7" y1="71.28" x2="418.70" y2="71.28" stroke="#333" stroke-width="0.8"/>
<line x1="219.2" y1="56.15" x2="221.00" y2="56.15" stroke="#333" stroke-width="0.8"/>
<line x1="219.2" y1="41.02" x2="222.20" y2="41.02" stroke="#333" stroke-width="0.8"/>
<line x1="421.7" y1="41.02" x2="418.70" y2="41.02" stroke="#333" stroke-width="0.8"/>
<line x1="219.2" y1="25.89" x2="221.00" y2="25.89" stroke="#333" stroke-width="0.8"/>
<line x1="219.2" y1="10.76" x2="222.20" y2="10.76" stroke="#333" stroke-width="0.8"/>
<line x1="218.20" y1="132.1" x2="218.20" y2="129" stroke="#333" stroke-width="0.8"/>
<line x1="252.23" y1="132.1" x2="252.23" y2="129" stroke="#333" stroke-width="0.8"/>
<line x1="286.26" y1="132.1" x2="286.26" y2="129" stroke="#333" stroke-width="0.8"/>
<line x1="320.29" y1="132.1" x2="320.29" y2="129" stroke="#333" stroke-width="0.8"/>
<line x1="354.32" y1="132.1" x2="354.32" y2="129" stroke="#333" stroke-width="0.8"/>
<line x1="388.35" y1="132.1" x2="388.35" y2="129" stroke="#333" stroke-width="0.8"/>
<line x1="422.38" y1="132.1" x2="422.38" y2="129" stroke="#333" stroke-width="0.8"/>
<text x="216" y="134.75" font-size="8.2" text-anchor="end" font-family="Liberation Sans, sans-serif" fill="#333">0.0</text>
<text x="216" y="104.49" font-size="8.2" text-anchor="end" font-family="Liberation Sans, sans-serif" fill="#333">0.2</text>
<text x="216" y="74.23" font-size="8.2" text-anchor="end" font-family="Liberation Sans, sans-serif" fill="#333">0.4</text>
<text x="216" y="43.97" font-size="8.2" text-anchor="end" font-family="Liberation Sans, sans-serif" fill="#333">0.6</text>
<text x="216" y="13.71" font-size="8.2" text-anchor="end" font-family="Liberation Sans, sans-serif" fill="#333">0.8</text>
<text x="218.20" y="143.1" font-size="8.2" text-anchor="middle" font-family="Liberation Sans, sans-serif" fill="#333">-1.5</text>
<text x="252.23" y="143.1" font-size="8.2" text-anchor="middle" font-family="Liberation Sans, sans-serif" fill="#333">-1.0</text>
<text x="286.26" y="143.1" font-size="8.2" text-anchor="middle" font-family="Liberation Sans, sans-serif" fill="#333">-0.5</text>
<text x="320.29" y="143.1" font-size="8.2" text-anchor="middle" font-family="Liberation Sans, sans-serif" fill="#333">0.0</text>
<text x="354.32" y="143.1" font-size="8.2" text-anchor="middle" font-family="Liberation Sans, sans-serif" fill="#333">0.5</text>
<text x="388.35" y="143.1" font-size="8.2" text-anchor="middle" font-family="Liberation Sans, sans-serif" fill="#333">1.0</text>
<text x="422.38" y="143.1" font-size="8.2" text-anchor="middle" font-family="Liberation Sans, sans-serif" fill="#333">1.5</text>
<text x="324.9" y="154.6" font-size="9.7" text-anchor="middle" font-family="Liberation Sans, sans-serif" fill="#222">Position (μm)</text>
<text transform="translate(195.9,66.8) rotate(-90)" font-size="9.9" text-anchor="middle" font-family="Liberation Sans, sans-serif" fill="#222">Time (ns)</text>
<text x="224.6" y="27.5" font-size="7.4" font-weight="bold" font-family="Liberation Sans, sans-serif" fill="#fff"><tspan font-style="italic">D</tspan>=0.46 ± 0.18 cm<tspan font-size="4.8" dy="-2.6">2</tspan><tspan dy="2.6">/s</tspan></text>
<text x="224.6" y="41.3" font-size="7.4" font-weight="bold" font-family="Liberation Sans, sans-serif" fill="#fff"><tspan font-style="italic">L</tspan><tspan font-size="4.8" dy="1.6">D</tspan><tspan dy="-1.6">=331 ± 65 nm</tspan></text>
<text x="410.8" y="22.3" font-size="8.1" font-weight="bold" text-anchor="end" font-family="Liberation Sans, sans-serif" fill="#fff">Spherulite</text>
<rect x="397.2" y="54.3" width="5" height="52.5" fill="url(#cb)"/>
<line x1="401" y1="64.6" x2="402.2" y2="64.6" stroke="#222" stroke-width="0.6" opacity="0.7"/>
<line x1="401" y1="75.2" x2="402.2" y2="75.2" stroke="#222" stroke-width="0.6" opacity="0.7"/>
<line x1="401" y1="85.8" x2="402.2" y2="85.8" stroke="#222" stroke-width="0.6" opacity="0.7"/>
<line x1="401" y1="96.4" x2="402.2" y2="96.4" stroke="#222" stroke-width="0.6" opacity="0.7"/>
<text x="399.6" y="53.2" font-size="7" text-anchor="middle" font-family="Liberation Sans, sans-serif" fill="#e6e6e6">1.0</text>
<text x="399.6" y="114" font-size="7" text-anchor="middle" font-family="Liberation Sans, sans-serif" fill="#e6e6e6">0.0</text>
<rect x="175.5" y="173.1" width="268.7" height="138.5" fill="#fbfbfb" stroke="#c2c2c2" stroke-width="0.75" stroke-dasharray="3,2.5"/>
<path d="M305,226 L324.6,210.6 L324.6,256.1 Z" fill="url(#magcone)"/>
<rect x="324.6" y="210.6" width="114.4" height="45.5" fill="#ececec"/>
<rect x="326.3" y="220.1" width="101" height="20" fill="#1e8fe0"/>
<rect x="326.3" y="220.1" width="101" height="1.2" fill="#66b8f0"/>
<rect x="339.5" y="225.8" width="96.3" height="21.2" fill="#1a8de0"/>
<rect x="339.5" y="225.8" width="96.3" height="1.2" fill="#5db3ee"/>
<polygon points="356.95,234.20 355.53,236.67 352.68,236.67 351.25,234.20 352.68,231.73 355.53,231.73" fill="none" stroke="#151515" stroke-width="0.6"/><polygon points="360.45,237.40 359.03,239.87 356.18,239.87 354.75,237.40 356.18,234.93 359.03,234.93" fill="none" stroke="#151515" stroke-width="0.6"/><polygon points="371.05,235.40 369.62,237.87 366.77,237.87 365.35,235.40 366.77,232.93 369.62,232.93" fill="none" stroke="#151515" stroke-width="0.6"/><polygon points="375.75,237.60 374.32,240.07 371.47,240.07 370.05,237.60 371.47,235.13 374.32,235.13" fill="none" stroke="#151515" stroke-width="0.6"/><polygon points="381.75,234.80 380.32,237.27 377.47,237.27 376.05,234.80 377.47,232.33 380.32,232.33" fill="none" stroke="#151515" stroke-width="0.6"/><polygon points="392.55,237.40 391.12,239.87 388.27,239.87 386.85,237.40 388.27,234.93 391.12,234.93" fill="none" stroke="#151515" stroke-width="0.6"/><polygon points="397.25,235.20 395.82,237.67 392.97,237.67 391.55,235.20 392.97,232.73 395.82,232.73" fill="none" stroke="#151515" stroke-width="0.6"/><polygon points="401.95,238.00 400.53,240.47 397.68,240.47 396.25,238.00 397.68,235.53 400.53,235.53" fill="none" stroke="#151515" stroke-width="0.6"/><polygon points="412.65,236.10 411.23,238.57 408.38,238.57 406.95,236.10 408.38,233.63 411.23,233.63" fill="none" stroke="#151515" stroke-width="0.6"/><polygon points="418.05,238.00 416.62,240.47 413.77,240.47 412.35,238.00 413.77,235.53 416.62,235.53" fill="none" stroke="#151515" stroke-width="0.6"/><polygon points="423.35,235.40 421.93,237.87 419.07,237.87 417.65,235.40 419.07,232.93 421.93,232.93" fill="none" stroke="#151515" stroke-width="0.6"/><line x1="360.50" y1="236.3" x2="365.30" y2="236.3" stroke="#1a1a1a" stroke-width="0.5"/><line x1="382.00" y1="236.3" x2="386.90" y2="236.3" stroke="#1a1a1a" stroke-width="0.5"/><line x1="402.00" y1="236.3" x2="406.90" y2="236.3" stroke="#1a1a1a" stroke-width="0.5"/><line x1="423.20" y1="236.3" x2="428.60" y2="236.3" stroke="#1a1a1a" stroke-width="0.5"/>
<line x1="349" y1="236.1" x2="350.5" y2="236.1" stroke="#1a1a1a" stroke-width="0.5"/>
<line x1="349" y1="235.8" x2="379" y2="235.8" stroke="#e8cc30" stroke-width="0.9"/>
<path d="M383.20,235.60 L378.20,237.30 L379.20,235.60 L378.20,233.90 Z" fill="#d8407a"/>
<path d="M333.5,231.2 L338.5,228.6 M333.5,231.2 L340.5,232" stroke="#e39a3a" stroke-width="0.8"/>
<path d="M336,226.5 C333,228 331,231 331.5,234 C332,237 329,240 327.5,241.5 C326.5,243 328,244.2 331,243.2 C334,242 336.5,240 339,238" fill="none" stroke="#333" stroke-width="0.5"/>
<circle cx="346.9" cy="235.6" r="3" fill="url(#exc)"/>
<text x="311" y="266.9" font-size="8.15" font-family="Liberation Sans, sans-serif" fill="#222" xml:space="preserve">Interchain  and intrachain transport</text>
<g filter="url(#glow)"><path d="M183.90,247.60 C186.87,246.62 194.80,244.65 201.70,241.70 C208.60,238.75 217.82,233.25 225.30,229.90 C232.78,226.55 241.03,223.78 246.60,221.60 C252.17,219.42 254.07,218.52 258.70,216.80 C263.33,215.08 269.15,213.13 274.40,211.30 C279.65,209.47 285.20,207.45 290.20,205.80 C295.20,204.15 302.03,202.13 304.40,201.40" fill="none" stroke="#3aa8ff" stroke-width="12.5" stroke-linecap="round"/><path d="M193.40,261.30 C194.78,259.80 198.75,255.17 201.70,252.30 C204.65,249.43 207.55,247.05 211.10,244.10 C214.65,241.15 219.05,237.37 223.00,234.60 C226.95,231.83 230.17,229.93 234.80,227.50 C239.43,225.07 245.52,222.05 250.80,220.00 C256.08,217.95 261.25,216.65 266.50,215.20 C271.75,213.75 277.03,212.35 282.30,211.30 C287.57,210.25 293.42,209.55 298.10,208.90 C302.78,208.25 308.35,207.65 310.40,207.40" fill="none" stroke="#3aa8ff" stroke-width="12.5" stroke-linecap="round"/><path d="M202.90,267.70 C203.88,265.93 206.45,260.65 208.80,257.10 C211.15,253.55 213.85,249.75 217.00,246.40 C220.15,243.05 223.95,239.95 227.70,237.00 C231.45,234.05 235.45,231.12 239.50,228.70 C243.55,226.28 247.50,224.25 252.00,222.50 C256.50,220.75 261.45,219.25 266.50,218.20 C271.55,217.15 277.03,216.57 282.30,216.20 C287.57,215.83 293.63,216.03 298.10,216.00 C302.57,215.97 307.27,216.00 309.10,216.00" fill="none" stroke="#3aa8ff" stroke-width="12.5" stroke-linecap="round"/><path d="M215.90,276.00 C216.28,274.03 217.02,268.53 218.20,264.20 C219.38,259.87 221.02,254.35 223.00,250.00 C224.98,245.65 227.35,241.45 230.10,238.10 C232.85,234.75 236.02,232.17 239.50,229.90 C242.98,227.63 246.50,225.85 251.00,224.50 C255.50,223.15 261.28,222.17 266.50,221.80 C271.72,221.43 277.55,221.82 282.30,222.30 C287.05,222.78 291.45,224.03 295.00,224.70 C298.55,225.37 302.17,226.03 303.60,226.30" fill="none" stroke="#3aa8ff" stroke-width="12.5" stroke-linecap="round"/></g>
<path d="M215.90,276.00 C216.28,274.03 217.02,268.53 218.20,264.20 C219.38,259.87 221.02,254.35 223.00,250.00 C224.98,245.65 227.35,241.45 230.10,238.10 C232.85,234.75 236.02,232.17 239.50,229.90 C242.98,227.63 246.50,225.85 251.00,224.50 C255.50,223.15 261.28,222.17 266.50,221.80 C271.72,221.43 277.55,221.82 282.30,222.30 C287.05,222.78 291.45,224.03 295.00,224.70 C298.55,225.37 302.17,226.03 303.60,226.30" fill="none" stroke="#0b4f8e" stroke-width="5.8" stroke-linecap="round"/><path d="M202.90,267.70 C203.88,265.93 206.45,260.65 208.80,257.10 C211.15,253.55 213.85,249.75 217.00,246.40 C220.15,243.05 223.95,239.95 227.70,237.00 C231.45,234.05 235.45,231.12 239.50,228.70 C243.55,226.28 247.50,224.25 252.00,222.50 C256.50,220.75 261.45,219.25 266.50,218.20 C271.55,217.15 277.03,216.57 282.30,216.20 C287.57,215.83 293.63,216.03 298.10,216.00 C302.57,215.97 307.27,216.00 309.10,216.00" fill="none" stroke="#0b4f8e" stroke-width="5.8" stroke-linecap="round"/><path d="M193.40,261.30 C194.78,259.80 198.75,255.17 201.70,252.30 C204.65,249.43 207.55,247.05 211.10,244.10 C214.65,241.15 219.05,237.37 223.00,234.60 C226.95,231.83 230.17,229.93 234.80,227.50 C239.43,225.07 245.52,222.05 250.80,220.00 C256.08,217.95 261.25,216.65 266.50,215.20 C271.75,213.75 277.03,212.35 282.30,211.30 C287.57,210.25 293.42,209.55 298.10,208.90 C302.78,208.25 308.35,207.65 310.40,207.40" fill="none" stroke="#0b4f8e" stroke-width="5.8" stroke-linecap="round"/><path d="M183.90,247.60 C186.87,246.62 194.80,244.65 201.70,241.70 C208.60,238.75 217.82,233.25 225.30,229.90 C232.78,226.55 241.03,223.78 246.60,221.60 C252.17,219.42 254.07,218.52 258.70,216.80 C263.33,215.08 269.15,213.13 274.40,211.30 C279.65,209.47 285.20,207.45 290.20,205.80 C295.20,204.15 302.03,202.13 304.40,201.40" fill="none" stroke="#0b4f8e" stroke-width="5.8" stroke-linecap="round"/>
<path d="M215.90,276.00 C216.28,274.03 217.02,268.53 218.20,264.20 C219.38,259.87 221.02,254.35 223.00,250.00 C224.98,245.65 227.35,241.45 230.10,238.10 C232.85,234.75 236.02,232.17 239.50,229.90 C242.98,227.63 246.50,225.85 251.00,224.50 C255.50,223.15 261.28,222.17 266.50,221.80 C271.72,221.43 277.55,221.82 282.30,222.30 C287.05,222.78 291.45,224.03 295.00,224.70 C298.55,225.37 302.17,226.03 303.60,226.30" fill="none" stroke="#1b8fe8" stroke-width="4.4" stroke-linecap="round"/><path d="M202.90,267.70 C203.88,265.93 206.45,260.65 208.80,257.10 C211.15,253.55 213.85,249.75 217.00,246.40 C220.15,243.05 223.95,239.95 227.70,237.00 C231.45,234.05 235.45,231.12 239.50,228.70 C243.55,226.28 247.50,224.25 252.00,222.50 C256.50,220.75 261.45,219.25 266.50,218.20 C271.55,217.15 277.03,216.57 282.30,216.20 C287.57,215.83 293.63,216.03 298.10,216.00 C302.57,215.97 307.27,216.00 309.10,216.00" fill="none" stroke="#1b8fe8" stroke-width="4.4" stroke-linecap="round"/><path d="M193.40,261.30 C194.78,259.80 198.75,255.17 201.70,252.30 C204.65,249.43 207.55,247.05 211.10,244.10 C214.65,241.15 219.05,237.37 223.00,234.60 C226.95,231.83 230.17,229.93 234.80,227.50 C239.43,225.07 245.52,222.05 250.80,220.00 C256.08,217.95 261.25,216.65 266.50,215.20 C271.75,213.75 277.03,212.35 282.30,211.30 C287.57,210.25 293.42,209.55 298.10,208.90 C302.78,208.25 308.35,207.65 310.40,207.40" fill="none" stroke="#1b8fe8" stroke-width="4.4" stroke-linecap="round"/><path d="M183.90,247.60 C186.87,246.62 194.80,244.65 201.70,241.70 C208.60,238.75 217.82,233.25 225.30,229.90 C232.78,226.55 241.03,223.78 246.60,221.60 C252.17,219.42 254.07,218.52 258.70,216.80 C263.33,215.08 269.15,213.13 274.40,211.30 C279.65,209.47 285.20,207.45 290.20,205.80 C295.20,204.15 302.03,202.13 304.40,201.40" fill="none" stroke="#1b8fe8" stroke-width="4.4" stroke-linecap="round"/>
<path d="M215.90,276.00 C216.28,274.03 217.02,268.53 218.20,264.20 C219.38,259.87 221.02,254.35 223.00,250.00 C224.98,245.65 227.35,241.45 230.10,238.10 C232.85,234.75 236.02,232.17 239.50,229.90 C242.98,227.63 246.50,225.85 251.00,224.50 C255.50,223.15 261.28,222.17 266.50,221.80 C271.72,221.43 277.55,221.82 282.30,222.30 C287.05,222.78 291.45,224.03 295.00,224.70 C298.55,225.37 302.17,226.03 303.60,226.30" fill="none" stroke="#5cc2fb" stroke-width="1.5" stroke-linecap="round" transform="translate(0.3,-1.1)"/><path d="M202.90,267.70 C203.88,265.93 206.45,260.65 208.80,257.10 C211.15,253.55 213.85,249.75 217.00,246.40 C220.15,243.05 223.95,239.95 227.70,237.00 C231.45,234.05 235.45,231.12 239.50,228.70 C243.55,226.28 247.50,224.25 252.00,222.50 C256.50,220.75 261.45,219.25 266.50,218.20 C271.55,217.15 277.03,216.57 282.30,216.20 C287.57,215.83 293.63,216.03 298.10,216.00 C302.57,215.97 307.27,216.00 309.10,216.00" fill="none" stroke="#5cc2fb" stroke-width="1.5" stroke-linecap="round" transform="translate(0.3,-1.1)"/><path d="M193.40,261.30 C194.78,259.80 198.75,255.17 201.70,252.30 C204.65,249.43 207.55,247.05 211.10,244.10 C214.65,241.15 219.05,237.37 223.00,234.60 C226.95,231.83 230.17,229.93 234.80,227.50 C239.43,225.07 245.52,222.05 250.80,220.00 C256.08,217.95 261.25,216.65 266.50,215.20 C271.75,213.75 277.03,212.35 282.30,211.30 C287.57,210.25 293.42,209.55 298.10,208.90 C302.78,208.25 308.35,207.65 310.40,207.40" fill="none" stroke="#5cc2fb" stroke-width="1.5" stroke-linecap="round" transform="translate(0.3,-1.1)"/><path d="M183.90,247.60 C186.87,246.62 194.80,244.65 201.70,241.70 C208.60,238.75 217.82,233.25 225.30,229.90 C232.78,226.55 241.03,223.78 246.60,221.60 C252.17,219.42 254.07,218.52 258.70,216.80 C263.33,215.08 269.15,213.13 274.40,211.30 C279.65,209.47 285.20,207.45 290.20,205.80 C295.20,204.15 302.03,202.13 304.40,201.40" fill="none" stroke="#5cc2fb" stroke-width="1.5" stroke-linecap="round" transform="translate(0.3,-1.1)"/>
<circle cx="303.6" cy="226.3" r="2.3" fill="#b9e2f5" stroke="#2a6a90" stroke-width="0.5"/>
<path d="M250,219 C265,213.5 285,206.5 303,201.2" fill="none" stroke="#1a1a1a" stroke-width="0.45"/>
<path d="M253,217.8 C265,213.5 278,209 290,205" fill="none" stroke="#1a1a1a" stroke-width="1.5" stroke-dasharray="0.45,1.0" opacity="0.8"/>
<path d="M252,219.5 C268,216 288,214 304,217" fill="none" stroke="#1a1a1a" stroke-width="0.45"/>
<path d="M252,221.5 C268,220.5 282,221.5 296,224.5" fill="none" stroke="#1a1a1a" stroke-width="0.45"/>
<path d="M245,222.3 C236,225 226,229.5 214,235.5" fill="none" stroke="#1a1a1a" stroke-width="0.45"/>
<path d="M240,226 C230,231 218,237 205,242.5" fill="none" stroke="#1a1a1a" stroke-width="0.45"/>
<path d="M292.50,203.80 L290.16,205.72 L290.36,204.45 L289.49,203.52 Z" fill="#151515"/>
<path d="M284.00,210.60 L281.44,212.22 L281.79,210.99 L281.04,209.95 Z" fill="#151515"/>
<path d="M302.00,217.40 L299.16,218.45 L299.76,217.32 L299.24,216.15 Z" fill="#151515"/>
<path d="M286.00,223.40 L283.02,223.94 L283.81,222.93 L283.50,221.69 Z" fill="#151515"/>
<path d="M216.50,233.70 L218.55,231.47 L218.53,232.75 L219.52,233.56 Z" fill="#151515"/>
<path d="M219.50,232.20 L221.55,229.97 L221.53,231.25 L222.52,232.06 Z" fill="#151515"/>
<path d="M206.50,241.60 L208.67,239.48 L208.58,240.76 L209.53,241.62 Z" fill="#151515"/>
<path d="M225.40,238.60 L226.32,235.72 L226.84,236.88 L228.08,237.19 Z" fill="#151515"/>
<circle cx="247.4" cy="220.9" r="3.4" fill="url(#exc)"/>
<line x1="202.9" y1="217.5" x2="281.6" y2="182.2" stroke="#333" stroke-width="0.6"/>
<path d="M202.90,217.50 L205.38,215.19 L205.24,216.46 L206.27,217.20 Z" fill="#333"/>
<path d="M281.60,182.20 L279.12,184.51 L279.26,183.24 L278.23,182.50 Z" fill="#333"/>
<line x1="198.6" y1="211.7" x2="204.9" y2="223.1" stroke="#333" stroke-width="0.6"/>
<line x1="280.3" y1="175.1" x2="286.1" y2="187.3" stroke="#333" stroke-width="0.6"/>
<text transform="translate(230.6,195.3) rotate(-24)" font-size="7.4" font-family="Liberation Sans, sans-serif" fill="#2a2a2a">L<tspan font-size="4.8" dy="1.4">D</tspan></text>
<circle cx="198.5" cy="300.6" r="2.9" fill="url(#exc)"/>
<text x="208.1" y="303.2" font-size="7.5" font-family="Liberation Sans, sans-serif" fill="#222">Exciton</text>
<path d="M245.7,298.4 C252,296 260,295.3 271,298.5" fill="none" stroke="#1c8ee2" stroke-width="1.5" stroke-linecap="round"/>
<path d="M246.3,300.2 C252,297.5 262,296.5 271.2,300" fill="none" stroke="#1c8ee2" stroke-width="1.5" stroke-linecap="round"/>
<path d="M247,302.2 C252,298.5 261,297.8 268.5,303" fill="none" stroke="#1c8ee2" stroke-width="1.5" stroke-linecap="round"/>
<path d="M248.3,304.3 C251,300 256,297.8 262,297.6" fill="none" stroke="#1c8ee2" stroke-width="1.5" stroke-linecap="round"/>
<path d="M249.6,306.2 C252,301 256,298.6 262,298.2" fill="none" stroke="#1c8ee2" stroke-width="1.5" stroke-linecap="round"/>
<text x="277" y="302.9" font-size="7.5" font-family="Liberation Sans, sans-serif" fill="#222">Bundles of Nanofibres</text>
<rect x="366" y="298.3" width="22.5" height="4.2" fill="#0a8de0"/>
<text x="392.7" y="303.1" font-size="7.5" font-family="Liberation Sans, sans-serif" fill="#222">Crystal</text>
<text x="455.7" y="10.4" font-size="14" font-weight="bold" font-family="Liberation Sans, sans-serif" fill="#000">c</text>
<line x1="499.9" y1="64.3" x2="499.9" y2="85.2" stroke="#a8a8a8" stroke-width="0.9"/>
<line x1="498.3" y1="64.3" x2="501.5" y2="64.3" stroke="#a8a8a8" stroke-width="0.9"/>
<line x1="498.3" y1="85.2" x2="501.5" y2="85.2" stroke="#a8a8a8" stroke-width="0.9"/>
<line x1="508.2" y1="63.5" x2="508.2" y2="86.2" stroke="#a8a8a8" stroke-width="0.9"/>
<line x1="506.6" y1="63.5" x2="509.8" y2="63.5" stroke="#a8a8a8" stroke-width="0.9"/>
<line x1="506.6" y1="86.2" x2="509.8" y2="86.2" stroke="#a8a8a8" stroke-width="0.9"/>
<line x1="516.5" y1="59.5" x2="516.5" y2="84.7" stroke="#a8a8a8" stroke-width="0.9"/>
<line x1="514.9" y1="59.5" x2="518.1" y2="59.5" stroke="#a8a8a8" stroke-width="0.9"/>
<line x1="514.9" y1="84.7" x2="518.1" y2="84.7" stroke="#a8a8a8" stroke-width="0.9"/>
<line x1="524.9" y1="51.6" x2="524.9" y2="85.2" stroke="#a8a8a8" stroke-width="0.9"/>
<line x1="523.3" y1="51.6" x2="526.5" y2="51.6" stroke="#a8a8a8" stroke-width="0.9"/>
<line x1="523.3" y1="85.2" x2="526.5" y2="85.2" stroke="#a8a8a8" stroke-width="0.9"/>
<line x1="533.2" y1="53.4" x2="533.2" y2="80.1" stroke="#a8a8a8" stroke-width="0.9"/>
<line x1="531.6" y1="53.4" x2="534.8" y2="53.4" stroke="#a8a8a8" stroke-width="0.9"/>
<line x1="531.6" y1="80.1" x2="534.8" y2="80.1" stroke="#a8a8a8" stroke-width="0.9"/>
<line x1="541.8" y1="44.0" x2="541.8" y2="81.9" stroke="#a8a8a8" stroke-width="0.9"/>
<line x1="540.2" y1="44.0" x2="543.4" y2="44.0" stroke="#a8a8a8" stroke-width="0.9"/>
<line x1="540.2" y1="81.9" x2="543.4" y2="81.9" stroke="#a8a8a8" stroke-width="0.9"/>
<line x1="550.1" y1="37.0" x2="550.1" y2="83.7" stroke="#a8a8a8" stroke-width="0.9"/>
<line x1="548.5" y1="37.0" x2="551.7" y2="37.0" stroke="#a8a8a8" stroke-width="0.9"/>
<line x1="548.5" y1="83.7" x2="551.7" y2="83.7" stroke="#a8a8a8" stroke-width="0.9"/>
<line x1="558.4" y1="33.5" x2="558.4" y2="77.6" stroke="#a8a8a8" stroke-width="0.9"/>
<line x1="556.8" y1="33.5" x2="560.0" y2="33.5" stroke="#a8a8a8" stroke-width="0.9"/>
<line x1="556.8" y1="77.6" x2="560.0" y2="77.6" stroke="#a8a8a8" stroke-width="0.9"/>
<line x1="566.7" y1="36.0" x2="566.7" y2="85.7" stroke="#a8a8a8" stroke-width="0.9"/>
<line x1="565.1" y1="36.0" x2="568.3" y2="36.0" stroke="#a8a8a8" stroke-width="0.9"/>
<line x1="565.1" y1="85.7" x2="568.3" y2="85.7" stroke="#a8a8a8" stroke-width="0.9"/>
<line x1="574.8" y1="37.0" x2="574.8" y2="84.9" stroke="#a8a8a8" stroke-width="0.9"/>
<line x1="573.2" y1="37.0" x2="576.4" y2="37.0" stroke="#a8a8a8" stroke-width="0.9"/>
<line x1="573.2" y1="84.9" x2="576.4" y2="84.9" stroke="#a8a8a8" stroke-width="0.9"/>
<line x1="583.2" y1="38.0" x2="583.2" y2="76.1" stroke="#a8a8a8" stroke-width="0.9"/>
<line x1="581.6" y1="38.0" x2="584.8" y2="38.0" stroke="#a8a8a8" stroke-width="0.9"/>
<line x1="581.6" y1="76.1" x2="584.8" y2="76.1" stroke="#a8a8a8" stroke-width="0.9"/>
<line x1="591.5" y1="38.0" x2="591.5" y2="76.1" stroke="#a8a8a8" stroke-width="0.9"/>
<line x1="589.9" y1="38.0" x2="593.1" y2="38.0" stroke="#a8a8a8" stroke-width="0.9"/>
<line x1="589.9" y1="76.1" x2="593.1" y2="76.1" stroke="#a8a8a8" stroke-width="0.9"/>
<line x1="599.8" y1="27.2" x2="599.8" y2="77.1" stroke="#a8a8a8" stroke-width="0.9"/>
<line x1="598.2" y1="27.2" x2="601.4" y2="27.2" stroke="#a8a8a8" stroke-width="0.9"/>
<line x1="598.2" y1="77.1" x2="601.4" y2="77.1" stroke="#a8a8a8" stroke-width="0.9"/>
<line x1="608.1" y1="29.2" x2="608.1" y2="81.4" stroke="#a8a8a8" stroke-width="0.9"/>
<line x1="606.5" y1="29.2" x2="609.7" y2="29.2" stroke="#a8a8a8" stroke-width="0.9"/>
<line x1="606.5" y1="81.4" x2="609.7" y2="81.4" stroke="#a8a8a8" stroke-width="0.9"/>
<line x1="616.5" y1="33.2" x2="616.5" y2="77.4" stroke="#a8a8a8" stroke-width="0.9"/>
<line x1="614.9" y1="33.2" x2="618.1" y2="33.2" stroke="#a8a8a8" stroke-width="0.9"/>
<line x1="614.9" y1="77.4" x2="618.1" y2="77.4" stroke="#a8a8a8" stroke-width="0.9"/>
<line x1="624.8" y1="31.2" x2="624.8" y2="72.1" stroke="#a8a8a8" stroke-width="0.9"/>
<line x1="623.2" y1="31.2" x2="626.4" y2="31.2" stroke="#a8a8a8" stroke-width="0.9"/>
<line x1="623.2" y1="72.1" x2="626.4" y2="72.1" stroke="#a8a8a8" stroke-width="0.9"/>
<line x1="632.9" y1="33.2" x2="632.9" y2="76.1" stroke="#a8a8a8" stroke-width="0.9"/>
<line x1="631.3" y1="33.2" x2="634.5" y2="33.2" stroke="#a8a8a8" stroke-width="0.9"/>
<line x1="631.3" y1="76.1" x2="634.5" y2="76.1" stroke="#a8a8a8" stroke-width="0.9"/>
<line x1="641.2" y1="37.0" x2="641.2" y2="80.1" stroke="#a8a8a8" stroke-width="0.9"/>
<line x1="639.6" y1="37.0" x2="642.8" y2="37.0" stroke="#a8a8a8" stroke-width="0.9"/>
<line x1="639.6" y1="80.1" x2="642.8" y2="80.1" stroke="#a8a8a8" stroke-width="0.9"/>
<line x1="649.5" y1="33.5" x2="649.5" y2="71.1" stroke="#a8a8a8" stroke-width="0.9"/>
<line x1="647.9" y1="33.5" x2="651.1" y2="33.5" stroke="#a8a8a8" stroke-width="0.9"/>
<line x1="647.9" y1="71.1" x2="651.1" y2="71.1" stroke="#a8a8a8" stroke-width="0.9"/>
<circle cx="499.9" cy="75.1" r="2.45" fill="#fff6cc" stroke="#2222dd" stroke-width="0.95"/>
<circle cx="508.2" cy="75.1" r="2.45" fill="#fff6cc" stroke="#2222dd" stroke-width="0.95"/>
<circle cx="516.5" cy="72.1" r="2.45" fill="#fff6cc" stroke="#2222dd" stroke-width="0.95"/>
<circle cx="524.9" cy="68.5" r="2.45" fill="#fff6cc" stroke="#2222dd" stroke-width="0.95"/>
<circle cx="533.2" cy="67.0" r="2.45" fill="#fff6cc" stroke="#2222dd" stroke-width="0.95"/>
<circle cx="541.8" cy="63.0" r="2.45" fill="#fff6cc" stroke="#2222dd" stroke-width="0.95"/>
<circle cx="550.1" cy="60.2" r="2.45" fill="#fff6cc" stroke="#2222dd" stroke-width="0.95"/>
<circle cx="558.4" cy="55.7" r="2.45" fill="#fff6cc" stroke="#2222dd" stroke-width="0.95"/>
<circle cx="566.7" cy="61.2" r="2.45" fill="#fff6cc" stroke="#2222dd" stroke-width="0.95"/>
<circle cx="574.8" cy="61.2" r="2.45" fill="#fff6cc" stroke="#2222dd" stroke-width="0.95"/>
<circle cx="583.2" cy="56.9" r="2.45" fill="#fff6cc" stroke="#2222dd" stroke-width="0.95"/>
<circle cx="591.5" cy="56.9" r="2.45" fill="#fff6cc" stroke="#2222dd" stroke-width="0.95"/>
<circle cx="599.8" cy="51.9" r="2.45" fill="#fff6cc" stroke="#2222dd" stroke-width="0.95"/>
<circle cx="608.1" cy="55.4" r="2.45" fill="#fff6cc" stroke="#2222dd" stroke-width="0.95"/>
<circle cx="616.5" cy="55.4" r="2.45" fill="#fff6cc" stroke="#2222dd" stroke-width="0.95"/>
<circle cx="624.8" cy="51.9" r="2.45" fill="#fff6cc" stroke="#2222dd" stroke-width="0.95"/>
<circle cx="632.9" cy="55.2" r="2.45" fill="#fff6cc" stroke="#2222dd" stroke-width="0.95"/>
<circle cx="641.2" cy="58.7" r="2.45" fill="#fff6cc" stroke="#2222dd" stroke-width="0.95"/>
<circle cx="649.5" cy="52.4" r="2.45" fill="#fff6cc" stroke="#2222dd" stroke-width="0.95"/>
<line x1="499.9" y1="71.3" x2="649.5" y2="49.9" stroke="#e53030" stroke-width="0.9"/>
<rect x="486.4" y="9.6" width="172" height="122.8" fill="none" stroke="#2a2a2a" stroke-width="1"/>
<line x1="486.4" y1="9.70" x2="483.60" y2="9.70" stroke="#333" stroke-width="0.8"/>
<line x1="486.4" y1="21.95" x2="484.70" y2="21.95" stroke="#333" stroke-width="0.8"/>
<line x1="486.4" y1="34.20" x2="483.60" y2="34.20" stroke="#333" stroke-width="0.8"/>
<line x1="486.4" y1="46.45" x2="484.70" y2="46.45" stroke="#333" stroke-width="0.8"/>
<line x1="486.4" y1="58.70" x2="483.60" y2="58.70" stroke="#333" stroke-width="0.8"/>
<line x1="486.4" y1="70.95" x2="484.70" y2="70.95" stroke="#333" stroke-width="0.8"/>
<line x1="486.4" y1="83.20" x2="483.60" y2="83.20" stroke="#333" stroke-width="0.8"/>
<line x1="486.4" y1="95.45" x2="484.70" y2="95.45" stroke="#333" stroke-width="0.8"/>
<line x1="486.4" y1="107.70" x2="483.60" y2="107.70" stroke="#333" stroke-width="0.8"/>
<line x1="486.4" y1="119.95" x2="484.70" y2="119.95" stroke="#333" stroke-width="0.8"/>
<line x1="486.4" y1="132.20" x2="483.60" y2="132.20" stroke="#333" stroke-width="0.8"/>
<line x1="491.20" y1="132.4" x2="491.20" y2="135.20" stroke="#333" stroke-width="0.8"/>
<line x1="504.22" y1="132.4" x2="504.22" y2="134.10" stroke="#333" stroke-width="0.8"/>
<line x1="517.25" y1="132.4" x2="517.25" y2="135.20" stroke="#333" stroke-width="0.8"/>
<line x1="530.27" y1="132.4" x2="530.27" y2="134.10" stroke="#333" stroke-width="0.8"/>
<line x1="543.30" y1="132.4" x2="543.30" y2="135.20" stroke="#333" stroke-width="0.8"/>
<line x1="556.33" y1="132.4" x2="556.33" y2="134.10" stroke="#333" stroke-width="0.8"/>
<line x1="569.35" y1="132.4" x2="569.35" y2="135.20" stroke="#333" stroke-width="0.8"/>
<line x1="582.38" y1="132.4" x2="582.38" y2="134.10" stroke="#333" stroke-width="0.8"/>
<line x1="595.40" y1="132.4" x2="595.40" y2="135.20" stroke="#333" stroke-width="0.8"/>
<line x1="608.42" y1="132.4" x2="608.42" y2="134.10" stroke="#333" stroke-width="0.8"/>
<line x1="621.45" y1="132.4" x2="621.45" y2="135.20" stroke="#333" stroke-width="0.8"/>
<line x1="634.48" y1="132.4" x2="634.48" y2="134.10" stroke="#333" stroke-width="0.8"/>
<line x1="647.50" y1="132.4" x2="647.50" y2="135.20" stroke="#333" stroke-width="0.8"/>
<text x="483.1" y="12.70" font-size="8.3" text-anchor="end" font-family="Liberation Sans, sans-serif" fill="#222">0.03</text>
<text x="483.1" y="37.20" font-size="8.3" text-anchor="end" font-family="Liberation Sans, sans-serif" fill="#222">0.02</text>
<text x="483.1" y="61.70" font-size="8.3" text-anchor="end" font-family="Liberation Sans, sans-serif" fill="#222">0.01</text>
<text x="483.1" y="86.20" font-size="8.3" text-anchor="end" font-family="Liberation Sans, sans-serif" fill="#222">0.00</text>
<text x="483.1" y="110.70" font-size="8.3" text-anchor="end" font-family="Liberation Sans, sans-serif" fill="#222">-0.01</text>
<text x="483.1" y="135.20" font-size="8.3" text-anchor="end" font-family="Liberation Sans, sans-serif" fill="#222">-0.02</text>
<text x="489.90" y="144.9" font-size="8.2" text-anchor="middle" font-family="Liberation Sans, sans-serif" fill="#222">0.00</text>
<text x="515.95" y="144.9" font-size="8.2" text-anchor="middle" font-family="Liberation Sans, sans-serif" fill="#222">0.05</text>
<text x="542.00" y="144.9" font-size="8.2" text-anchor="middle" font-family="Liberation Sans, sans-serif" fill="#222">0.10</text>
<text x="568.05" y="144.9" font-size="8.2" text-anchor="middle" font-family="Liberation Sans, sans-serif" fill="#222">0.15</text>
<text x="594.10" y="144.9" font-size="8.2" text-anchor="middle" font-family="Liberation Sans, sans-serif" fill="#222">0.20</text>
<text x="620.15" y="144.9" font-size="8.2" text-anchor="middle" font-family="Liberation Sans, sans-serif" fill="#222">0.25</text>
<text x="646.20" y="144.9" font-size="8.2" text-anchor="middle" font-family="Liberation Sans, sans-serif" fill="#222">0.30</text>
<text x="569.4" y="157.1" font-size="9.9" text-anchor="middle" font-family="Liberation Sans, sans-serif" fill="#222">Time (ns)</text>
<text transform="translate(463,69.7) rotate(-90)" font-size="9.9" text-anchor="middle" font-family="Liberation Sans, sans-serif" fill="#222">MSD (μm<tspan font-size="6" dy="-3">2</tspan><tspan dy="3">)</tspan></text>
<circle cx="510.5" cy="105.4" r="2.3" fill="#fff6cc" stroke="#2828e0" stroke-width="0.9"/>
<text x="521.5" y="108.2" font-size="7.5" font-family="Liberation Sans, sans-serif" fill="#222">average</text>
<line x1="503.2" y1="116.5" x2="518.8" y2="116.5" stroke="#e42a2a" stroke-width="0.9"/>
<text x="521.5" y="118.9" font-size="7.5" font-family="Liberation Sans, sans-serif" fill="#222">linear fitting</text>
<text x="456.4" y="169.8" font-size="14.6" font-weight="bold" font-family="Liberation Sans, sans-serif" fill="#000">d</text>
<line x1="530.5" y1="230.6" x2="530.5" y2="255.2" stroke="#333" stroke-width="0.8"/>
<line x1="526.3" y1="230.6" x2="535" y2="230.6" stroke="#333" stroke-width="0.8"/>
<line x1="526.3" y1="255.2" x2="535" y2="255.2" stroke="#333" stroke-width="0.8"/>
<rect x="513.7" y="239.2" width="33.9" height="15.2" fill="#5aabf5" stroke="#3a3a3a" stroke-width="0.8"/>
<line x1="513.7" y1="246.3" x2="547.6" y2="246.3" stroke="#333" stroke-width="0.9"/>
<line x1="611" y1="243.5" x2="611" y2="265.7" stroke="#333" stroke-width="0.8"/>
<line x1="606.5" y1="243.5" x2="615" y2="243.5" stroke="#333" stroke-width="0.8"/>
<line x1="606.5" y1="265.7" x2="615" y2="265.7" stroke="#333" stroke-width="0.8"/>
<rect x="594.2" y="249.9" width="33.5" height="11.4" fill="#2aa9a9" stroke="#3a3a3a" stroke-width="0.8"/>
<line x1="594.2" y1="255" x2="627.7" y2="255" stroke="#1d5555" stroke-width="0.9"/>
<circle cx="530.5" cy="231.0" r="1.55" fill="#1f7fe6"/>
<circle cx="525.5" cy="238.6" r="1.55" fill="#1f7fe6"/>
<circle cx="535.3" cy="239.5" r="1.55" fill="#1f7fe6"/>
<circle cx="516.0" cy="242.1" r="1.55" fill="#1f7fe6"/>
<circle cx="520.8" cy="247.1" r="1.55" fill="#1f7fe6"/>
<circle cx="525.8" cy="245.7" r="1.55" fill="#1f7fe6"/>
<circle cx="540.0" cy="252.3" r="1.55" fill="#1f7fe6"/>
<circle cx="544.9" cy="252.6" r="1.55" fill="#1f7fe6"/>
<circle cx="535.3" cy="255.8" r="1.55" fill="#1f7fe6"/>
<circle cx="530.5" cy="261.3" r="1.55" fill="#1f7fe6"/>
<circle cx="530.7" cy="188.5" r="1.55" fill="#1f7fe6"/>
<circle cx="611.0" cy="243.2" r="1.45" fill="#45ccdc"/>
<circle cx="608.4" cy="249.0" r="1.45" fill="#45ccdc"/>
<circle cx="621.4" cy="250.0" r="1.45" fill="#45ccdc"/>
<circle cx="625.5" cy="252.5" r="1.45" fill="#45ccdc"/>
<circle cx="604.5" cy="256.0" r="1.45" fill="#45ccdc"/>
<circle cx="612.7" cy="255.0" r="1.45" fill="#45ccdc"/>
<circle cx="596.6" cy="259.7" r="1.45" fill="#45ccdc"/>
<circle cx="600.2" cy="259.4" r="1.45" fill="#45ccdc"/>
<circle cx="617.1" cy="262.1" r="1.45" fill="#45ccdc"/>
<circle cx="608.4" cy="265.7" r="1.45" fill="#45ccdc"/>
<circle cx="613.2" cy="265.7" r="1.45" fill="#45ccdc"/>
<circle cx="611.1" cy="197.3" r="1.45" fill="#45ccdc"/>
<rect x="529.7" y="242.1" width="1.6" height="1.6" fill="#555"/>
<rect x="488.3" y="170.6" width="164.4" height="131.2" fill="none" stroke="#333" stroke-width="0.9"/>
<line x1="488.3" y1="301.40" x2="485.50" y2="301.40" stroke="#333" stroke-width="0.8"/>
<line x1="488.3" y1="291.40" x2="486.60" y2="291.40" stroke="#333" stroke-width="0.8"/>
<line x1="488.3" y1="281.40" x2="485.50" y2="281.40" stroke="#333" stroke-width="0.8"/>
<line x1="488.3" y1="271.40" x2="486.60" y2="271.40" stroke="#333" stroke-width="0.8"/>
<line x1="488.3" y1="261.40" x2="485.50" y2="261.40" stroke="#333" stroke-width="0.8"/>
<line x1="488.3" y1="251.40" x2="486.60" y2="251.40" stroke="#333" stroke-width="0.8"/>
<line x1="488.3" y1="241.40" x2="485.50" y2="241.40" stroke="#333" stroke-width="0.8"/>
<line x1="488.3" y1="231.40" x2="486.60" y2="231.40" stroke="#333" stroke-width="0.8"/>
<line x1="488.3" y1="221.40" x2="485.50" y2="221.40" stroke="#333" stroke-width="0.8"/>
<line x1="488.3" y1="211.40" x2="486.60" y2="211.40" stroke="#333" stroke-width="0.8"/>
<line x1="488.3" y1="201.40" x2="485.50" y2="201.40" stroke="#333" stroke-width="0.8"/>
<line x1="488.3" y1="191.40" x2="486.60" y2="191.40" stroke="#333" stroke-width="0.8"/>
<line x1="488.3" y1="181.40" x2="485.50" y2="181.40" stroke="#333" stroke-width="0.8"/>
<line x1="488.3" y1="171.40" x2="486.60" y2="171.40" stroke="#333" stroke-width="0.8"/>
<line x1="652.7" y1="297.67" x2="654.40" y2="297.67" stroke="#333" stroke-width="0.8"/>
<line x1="652.7" y1="283.70" x2="655.50" y2="283.70" stroke="#333" stroke-width="0.8"/>
<line x1="652.7" y1="269.73" x2="654.40" y2="269.73" stroke="#333" stroke-width="0.8"/>
<line x1="652.7" y1="255.75" x2="655.50" y2="255.75" stroke="#333" stroke-width="0.8"/>
<line x1="652.7" y1="241.78" x2="654.40" y2="241.78" stroke="#333" stroke-width="0.8"/>
<line x1="652.7" y1="227.81" x2="655.50" y2="227.81" stroke="#333" stroke-width="0.8"/>
<line x1="652.7" y1="213.84" x2="654.40" y2="213.84" stroke="#333" stroke-width="0.8"/>
<line x1="652.7" y1="199.86" x2="655.50" y2="199.86" stroke="#333" stroke-width="0.8"/>
<line x1="652.7" y1="185.89" x2="654.40" y2="185.89" stroke="#333" stroke-width="0.8"/>
<line x1="652.7" y1="171.92" x2="655.50" y2="171.92" stroke="#333" stroke-width="0.8"/>
<line x1="570.7" y1="301.8" x2="570.7" y2="304.3" stroke="#333" stroke-width="0.8"/>
<text x="486" y="304.40" font-size="8.3" text-anchor="end" font-family="Liberation Sans, sans-serif" fill="#222">50</text>
<text x="486" y="284.40" font-size="8.3" text-anchor="end" font-family="Liberation Sans, sans-serif" fill="#222">100</text>
<text x="486" y="264.40" font-size="8.3" text-anchor="end" font-family="Liberation Sans, sans-serif" fill="#222">150</text>
<text x="486" y="244.40" font-size="8.3" text-anchor="end" font-family="Liberation Sans, sans-serif" fill="#222">200</text>
<text x="486" y="224.40" font-size="8.3" text-anchor="end" font-family="Liberation Sans, sans-serif" fill="#222">250</text>
<text x="486" y="204.40" font-size="8.3" text-anchor="end" font-family="Liberation Sans, sans-serif" fill="#222">300</text>
<text x="486" y="184.40" font-size="8.3" text-anchor="end" font-family="Liberation Sans, sans-serif" fill="#222">350</text>
<text x="656.5" y="286.70" font-size="8.3" font-family="Liberation Sans, sans-serif" fill="#222">0.00</text>
<text x="656.5" y="258.75" font-size="8.3" font-family="Liberation Sans, sans-serif" fill="#222">0.15</text>
<text x="656.5" y="230.81" font-size="8.3" font-family="Liberation Sans, sans-serif" fill="#222">0.30</text>
<text x="656.5" y="202.86" font-size="8.3" font-family="Liberation Sans, sans-serif" fill="#222">0.45</text>
<text x="656.5" y="174.92" font-size="8.3" font-family="Liberation Sans, sans-serif" fill="#222">0.60</text>
<text x="570.8" y="314.5" font-size="9.6" text-anchor="middle" font-family="Liberation Sans, sans-serif" fill="#222">Spherulite</text>
<text transform="translate(465.5,235.4) rotate(-90)" font-size="9.9" text-anchor="middle" font-family="Liberation Sans, sans-serif" fill="#222">Diffusion length (nm)</text>
<text transform="translate(683,236) rotate(-90)" font-size="9.5" text-anchor="middle" font-family="Liberation Sans, sans-serif" fill="#222">Diffusion coefficient (cm<tspan font-size="6" dy="-3">2</tspan><tspan dy="3"> s</tspan><tspan font-size="6" dy="-3">-1</tspan><tspan dy="3">)</tspan></text>
<rect x="496.1" y="177.6" width="9.9" height="5.1" fill="#5aabf5" stroke="#2a4a6a" stroke-width="0.7"/>
<text x="509.4" y="182.9" font-size="7.8" font-family="Liberation Sans, sans-serif" fill="#222">Diffusion length</text>
<rect x="569.8" y="178" width="9.8" height="4.6" fill="#2aa9a9" stroke="#1d4f4f" stroke-width="0.7"/>
<text x="581.4" y="182.9" font-size="7.75" font-family="Liberation Sans, sans-serif" fill="#222">Diffusion coefficient</text>
<line x1="503.8" y1="281.1" x2="510.8" y2="281.1" stroke="#777" stroke-width="1.4"/>
<text x="514.6" y="283.2" font-size="7.8" font-family="Liberation Sans, sans-serif" fill="#222">median</text>
<circle cx="507.4" cy="289.8" r="1.2" fill="#bbb" stroke="#555" stroke-width="0.6"/>
<text x="514.6" y="292.6" font-size="7.8" font-family="Liberation Sans, sans-serif" fill="#222">average</text></svg>
</body></html>
